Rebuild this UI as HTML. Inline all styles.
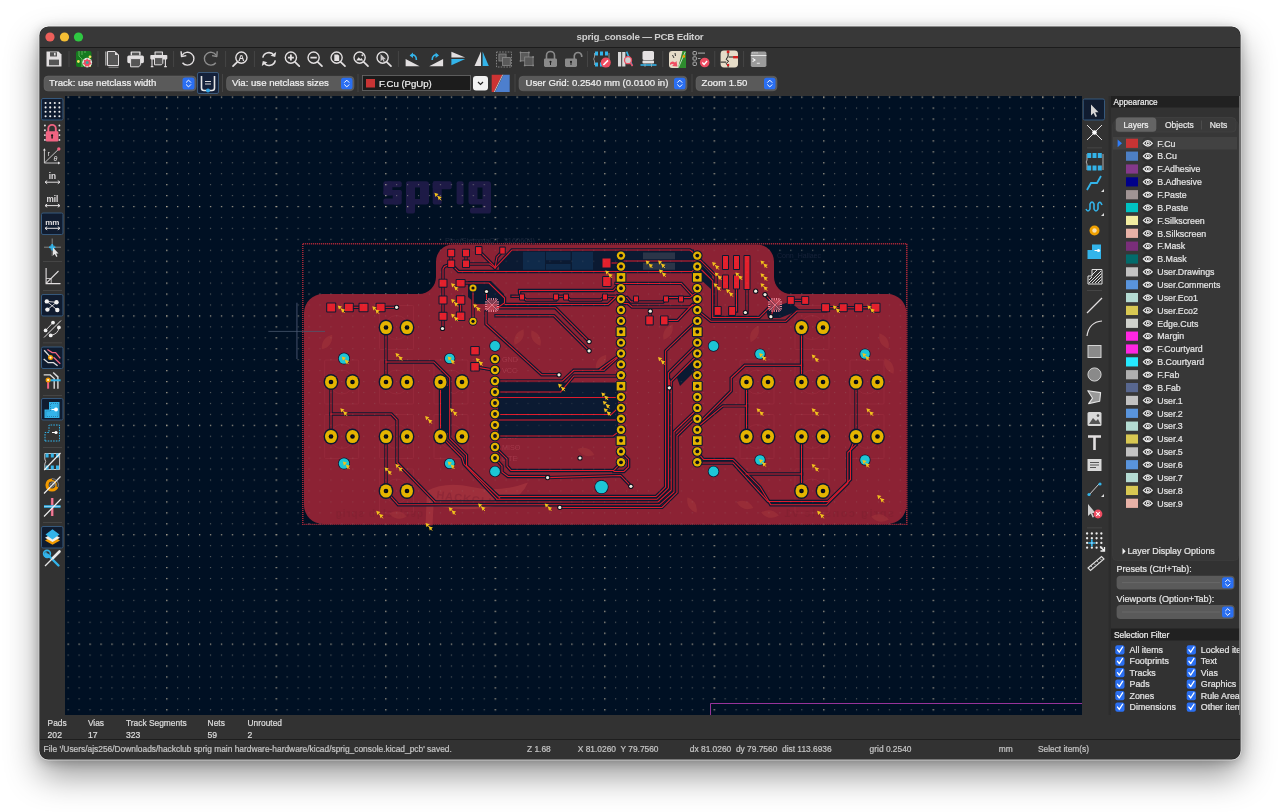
<!DOCTYPE html>
<html><head><meta charset="utf-8">
<style>
*{margin:0;padding:0}
html,body{width:1280px;height:812px;overflow:hidden;background:#fff}
#win{position:absolute;left:40px;top:27px;width:1200px;height:732px;border-radius:8.5px;background:#323232;box-shadow:0 0 0 0.6px rgba(20,20,20,0.9),0 0 0 1.4px rgba(255,255,255,0.55),0 16px 34px rgba(0,0,0,0.42),0 2px 12px rgba(0,0,0,0.28)}
#ov{position:absolute;left:0;top:0;width:1280px;height:812px;will-change:transform}
svg text{font-family:"Liberation Sans", sans-serif}
</style></head><body>
<div id="win"></div>
<svg id="ov" width="1280" height="812" viewBox="0 0 1280 812">
<defs><clipPath id="wc"><rect x="40" y="27" width="1200" height="732" rx="8.5"/></clipPath>
<clipPath id="cc"><rect x="65" y="96" width="1017" height="619"/></clipPath></defs>
<g clip-path="url(#wc)">
<rect x="65" y="96" width="1017" height="619" fill="#001023"/><g clip-path="url(#cc)"><g fill="#1d1a46"><rect x="387" y="181.3" width="14.7" height="6" rx="2"/><rect x="383.4" y="181.3" width="9" height="14" rx="2"/><rect x="383.4" y="190" width="18.3" height="5.5" rx="2"/><rect x="392.7" y="190" width="9" height="14.5" rx="2"/><rect x="383.4" y="198.5" width="16" height="6" rx="2"/><path d="M408 181.3 H426 Q429 181.3 429 184.3 V201.5 Q429 204.5 426 204.5 H415 V211.6 Q415 213.6 413 213.6 H408 Q406 213.6 406 211.6 V183.3 Q406 181.3 408 181.3 Z M415 187.5 V199 H420 V187.5 Z" fill-rule="evenodd"/><rect x="432.7" y="181.3" width="9" height="23.2" rx="2"/><rect x="432.7" y="181.3" width="19" height="8" rx="2"/><rect x="456.6" y="181.3" width="7" height="23.2" rx="2"/><path d="M471 181.3 H488 Q491 181.3 491 184.3 V211 Q491 213.6 488.4 213.6 H472 Q470 213.6 470 211.6 V209.5 Q470 207.8 472 207.8 H482.5 V204.5 H471.5 Q468.5 204.5 468.5 201.5 V184.3 Q468.5 181.3 471 181.3 Z M477.5 187.5 V199 H482.5 V187.5 Z" fill-rule="evenodd"/></g><defs><pattern id="gp" x="62.6" y="91.6" width="10.95" height="10.94" patternUnits="userSpaceOnUse"><rect x="5" y="5" width="1.1" height="1.1" fill="#a8a498" opacity="0.55"/></pattern><pattern id="gpc" x="161.15" y="91.6" width="109.5" height="10.94" patternUnits="userSpaceOnUse"><rect x="5.1" y="5" width="1.3" height="1.2" fill="#e0d0b0" opacity="0.6"/></pattern><pattern id="gpr" x="62.6" y="91.6" width="10.95" height="109.4" patternUnits="userSpaceOnUse"><rect x="5" y="5" width="1.3" height="1.2" fill="#e0d0b0" opacity="0.5"/></pattern></defs><rect x="65" y="96" width="1017" height="619" fill="url(#gp)"/><rect x="65" y="96" width="1017" height="619" fill="url(#gpc)"/><rect x="65" y="96" width="1017" height="619" fill="url(#gpr)"/><rect x="302.8" y="243.8" width="604" height="280.6" fill="none" stroke="#b82a3a" stroke-width="1.4" stroke-dasharray="1.1 0.9"/><path d="M304 313 A19 19 0 0 1 323 294 H419 A17 17 0 0 0 436 277 V261.5 A17 17 0 0 1 453 244.5 H757 A17 17 0 0 1 774 261.5 V277 A17 17 0 0 0 791 294 H887.5 A19 19 0 0 1 906.5 313 V505 A19 19 0 0 1 887.5 524 H323 A19 19 0 0 1 304 505 Z" fill="#8c2234"/><path d="M425.5 525.5 L427 491 Q445 481 472 487 Q500 493 528 482.5 Q521 499 500 505 Q472 512 446 507.5 L433.5 506 L432.5 525.5 Z" fill="#a4343e" opacity="0.75"/><text x="436" y="503" font-size="11" font-weight="bold" fill="#8c2636" opacity="0.8" transform="rotate(8 470 500)" letter-spacing="1">HACKCLUB</text><text x="-423" y="517" font-size="10" font-weight="bold" fill="#7e2030" opacity="0.5" letter-spacing="1" transform="scale(-1,1)">qɐck club sprig</text><text x="-894" y="517" font-size="11" font-weight="bold" fill="#7e2030" opacity="0.5" letter-spacing="1.5" transform="scale(-1,1)">sprig console v1</text><path d="M318 342 Q327 334.5 336 342 Q327 349.5 318 342 Z" transform="rotate(-55 327 342)" fill="#a0343b" opacity="0.6"/><path d="M602 277 Q611 269.5 620 277 Q611 284.5 602 277 Z" transform="rotate(60 611 277)" fill="#a0343b" opacity="0.6"/><path d="M592 362 Q601 354.5 610 362 Q601 369.5 592 362 Z" transform="rotate(-55 601 362)" fill="#a0343b" opacity="0.6"/><path d="M745.5 334 Q754.5 326.5 763.5 334 Q754.5 341.5 745.5 334 Z" transform="rotate(-65 754.5 334)" fill="#a0343b" opacity="0.6"/><path d="M875 341 Q884 333.5 893 341 Q884 348.5 875 341 Z" transform="rotate(60 884 341)" fill="#a0343b" opacity="0.6"/><path d="M389 515 Q398 507.5 407 515 Q398 522.5 389 515 Z" transform="rotate(10 398 515)" fill="#a0343b" opacity="0.6"/><path d="M761 514 Q770 506.5 779 514 Q770 521.5 761 514 Z" transform="rotate(10 770 514)" fill="#a0343b" opacity="0.6"/><path d="M871 518 Q880 510.5 889 518 Q880 525.5 871 518 Z" transform="rotate(10 880 518)" fill="#a0343b" opacity="0.6"/><path d="M659 332 Q668 324.5 677 332 Q668 339.5 659 332 Z" transform="rotate(-60 668 332)" fill="#a0343b" opacity="0.6"/><path d="M683 505 Q692 497.5 701 505 Q692 512.5 683 505 Z" transform="rotate(60 692 505)" fill="#a0343b" opacity="0.6"/><path d="M577 452 Q586 444.5 595 452 Q586 459.5 577 452 Z" transform="rotate(20 586 452)" fill="#a0343b" opacity="0.6"/><path d="M527 338 Q536 330.5 545 338 Q536 345.5 527 338 Z" transform="rotate(60 536 338)" fill="#a0343b" opacity="0.6"/><path d="M510 337 Q519 329.5 528 337 Q519 344.5 510 337 Z" transform="rotate(-60 519 337)" fill="#a0343b" opacity="0.6"/><path d="M880 366 Q889 358.5 898 366 Q889 373.5 880 366 Z" transform="rotate(60 889 366)" fill="#a0343b" opacity="0.6"/><path d="M736 505 Q745 497.5 754 505 Q745 512.5 736 505 Z" transform="rotate(20 745 505)" fill="#a0343b" opacity="0.6"/><g fill="none" stroke="#a33445" stroke-width="0.7" opacity="0.55"><rect x="379.5" y="305.5" width="34" height="44" rx="1"/><circle cx="396.5" cy="327.5" r="12"/><rect x="324.7" y="360" width="34" height="44" rx="1"/><circle cx="341.7" cy="382" r="12"/><rect x="379.5" y="360" width="34" height="44" rx="1"/><circle cx="396.5" cy="382" r="12"/><rect x="434" y="360" width="34" height="44" rx="1"/><circle cx="451" cy="382" r="12"/><rect x="324.7" y="414.5" width="34" height="44" rx="1"/><circle cx="341.7" cy="436.5" r="12"/><rect x="379.5" y="414.5" width="34" height="44" rx="1"/><circle cx="396.5" cy="436.5" r="12"/><rect x="434" y="414.5" width="34" height="44" rx="1"/><circle cx="451" cy="436.5" r="12"/><rect x="379.5" y="469" width="34" height="44" rx="1"/><circle cx="396.5" cy="491" r="12"/><rect x="795" y="305.5" width="34" height="44" rx="1"/><circle cx="812" cy="327.5" r="12"/><rect x="740" y="360" width="34" height="44" rx="1"/><circle cx="757" cy="382" r="12"/><rect x="795" y="360" width="34" height="44" rx="1"/><circle cx="812" cy="382" r="12"/><rect x="850" y="360" width="34" height="44" rx="1"/><circle cx="867" cy="382" r="12"/><rect x="740" y="414.5" width="34" height="44" rx="1"/><circle cx="757" cy="436.5" r="12"/><rect x="795" y="414.5" width="34" height="44" rx="1"/><circle cx="812" cy="436.5" r="12"/><rect x="850" y="414.5" width="34" height="44" rx="1"/><circle cx="867" cy="436.5" r="12"/><rect x="795" y="469" width="34" height="44" rx="1"/><circle cx="812" cy="491" r="12"/></g><text x="502" y="361.8" font-size="7.2" fill="#a3384a" font-family="Liberation Mono">GND</text><text x="502" y="372.8" font-size="7.2" fill="#a3384a" font-family="Liberation Mono">VCC</text><text x="502" y="383.8" font-size="7.2" fill="#a3384a" font-family="Liberation Mono">RST</text><text x="502" y="394.8" font-size="7.2" fill="#a3384a" font-family="Liberation Mono">D/C</text><text x="502" y="405.8" font-size="7.2" fill="#a3384a" font-family="Liberation Mono">CARD_CS</text><text x="502" y="416.8" font-size="7.2" fill="#a3384a" font-family="Liberation Mono">TFT_CS</text><text x="502" y="427.8" font-size="7.2" fill="#a3384a" font-family="Liberation Mono">MOSI</text><text x="502" y="438.8" font-size="7.2" fill="#a3384a" font-family="Liberation Mono">SCK</text><text x="502" y="449.8" font-size="7.2" fill="#a3384a" font-family="Liberation Mono">MISO</text><text x="502" y="460.8" font-size="7.2" fill="#a3384a" font-family="Liberation Mono">LITE</text><text x="445" y="243" font-size="7.4" fill="#1e2a3e" font-family="Liberation Mono">Pico(StemmaQT_3160604)</text><text x="777" y="258" font-size="7" fill="#17233a" font-family="Liberation Mono">Conn_Hallaec</text><polygon points="514,249.5 694,249.5 694,272.5 499,272.5 499,264.5" fill="#0b1a32"/><polygon points="468,281 491,281 504,294 504,304 476,304 468,297" fill="#0b1a32"/><polygon points="498,382.5 618,382.5 618,437.5 498,437.5" fill="#0b1a32"/><polygon points="600,398 618,398 618,436 600,436" fill="#0b1a32"/><polygon points="441,386 449,386 449,433 441,433" fill="#0b1a32"/><polygon points="700,263 712,275.5 712,290 700,279" fill="#0b1a32"/><polygon points="676,375 694,358 694,372 680,386" fill="#0b1a32"/><polygon points="766,309 790,302 800,310 780,318 768,318" fill="#0b1a32"/><rect x="523" y="250.7" width="22" height="20.5" fill="#0f2a4a"/><rect x="546" y="250.7" width="24.5" height="9.5" fill="#0f2a4a"/><rect x="546" y="264" width="24.5" height="7" fill="#0f2a4a"/><rect x="572" y="250.7" width="21" height="20.5" fill="#0f2a4a"/><rect x="643" y="252.5" width="32" height="18" fill="#2b3548"/><g fill="none" stroke="#0b1a32" stroke-width="3.4" stroke-linejoin="miter" stroke-linecap="square"><polyline points="348.8,307.3 363.5,307.3"/><polyline points="380.6,307.3 396.6,307.3"/><polyline points="451,253 451,264 444.5,266.5 443,269 443,328.5"/><polyline points="451,264 458.5,271.5 692,271.5 697,266.5"/><polyline points="466,253 466,264 489.5,264 495,268"/><polyline points="478.7,250.6 494.5,266.5"/><polyline points="503,250.6 497,257 495,268"/><polyline points="495,268 512,250 690,250 697,255.6"/><polyline points="460.6,300 460.6,316.3"/><polyline points="460.6,283 489,283 504.5,298 504.5,303 497,308"/><polyline points="473,288 473,321.3"/><polyline points="486.5,291.5 486.5,299"/><polyline points="496,307.7 555.3,307.7 589.1,341.6"/><polyline points="496,315.7 554,315.7 589.1,350.8"/><polyline points="486,312 486,324 541.7,374.8 559,374.8"/><polyline points="505,304.5 608,304.5 617,296 621,299"/><polyline points="512,296.2 522,296.2 526,300 556,300 559,296.2 566,296.2 570,300 601,300 605,296.2 621,296.2"/><polyline points="519.6,291 519.6,296"/><polyline points="519.6,290.5 613.2,290.5 618,285.5 621,288.4"/><polyline points="606.5,263 621,263"/><polyline points="624,261 697,261"/><polyline points="616,283.4 681.3,283.4 692.4,295.5 697.3,299"/><polyline points="621,297.5 627,297.5 631,302 663,302 667,297.5 690,297.5 697.3,292"/><polyline points="621,303.5 628,303.5 632,307 690,307 697.3,303"/><polyline points="650.3,311.2 649.5,320.4"/><polyline points="664.3,320.4 677.6,320.4 692.4,304.7"/><polyline points="475,366.8 495,370.3"/><polyline points="495,381 562.5,381 573.8,370.3 603.8,370.3 618.5,357"/><polyline points="495,392 560.6,392 573.8,376 621,376"/><polyline points="499,397.5 621,397.5"/><polyline points="495,414.4 611.3,414.4 617,409"/><polyline points="499,420 621,420"/><polyline points="495,436 613,436 621,430"/><polyline points="495,447 507,459 507,466 511,470.5 613.6,470.5 621,463"/><polyline points="495,458 502,466 502,472 508,476.5 548,476.5"/><polyline points="547.6,477.6 620.7,475.5 630.9,486.3"/><polyline points="621,452 628.6,459.5 628.6,467 624,471.5 614,471.5"/><polyline points="694.3,323.2 665.6,350.9 665.6,487 656,496.5 499.8,496.5"/><polyline points="696,345.4 668.4,373 668.4,488 657,499.3 497,499.3"/><polyline points="694.3,358.3 671.2,381.4 671.2,490 658,502 435,502"/><polyline points="694.3,412.3 674,431.8 674,492 659.5,504.8 398.3,504.8 386,491"/><polyline points="669.3,387.8 669.3,380"/><polyline points="559.8,507.4 662,507.4 677,492.5 677,436 694.3,419"/><polyline points="620.3,354.6 600,369.4"/><polyline points="697.4,419.7 702.6,419.7 731.2,391 731.2,378 744.8,365.3 801.5,365.3"/><polyline points="700.7,424.4 722.9,405.9 746.5,405.9"/><polyline points="697.4,452 703.5,459.5 733,459.5 760,487 770.8,504.8 826.2,504.8 847.8,483.3 847.8,452.5 856,444.8"/><polyline points="697.4,463 733,463 768,501.5 828,501.5 850.5,479.5 850.5,450 856,436.5"/><polyline points="697.4,310.2 710.9,321.3 785.8,321.3 796.9,310.9 825.6,310.9"/><polyline points="699.4,267.7 712.7,281 712.7,317.5 759.2,317.5 770.3,306.4"/><polyline points="695,260.5 700.5,260.5 716,276 716,308.7"/><polyline points="736.5,289 736.5,311"/><polyline points="747,289 747,312.5"/><polyline points="765,294.6 774.7,305.3"/><polyline points="770.9,316.7 774.7,305.3"/><polyline points="790.8,300.4 805.2,300.4"/><polyline points="825.6,307.7 875.5,307.7"/><polyline points="801.6,474 746,474"/><polyline points="386,327.5 386,382"/><polyline points="386,362 433.7,362 449.7,378 449.7,438.4 466.5,455.2 466.5,465.7 499.8,497.9"/><polyline points="440.5,382 440.5,436.5"/><polyline points="440.5,436.5 445.7,441 462,457.6 464,464 497,499.3"/><polyline points="331,382 331,436.5"/><polyline points="331,414 391.3,414 397,420 397,462.5 435,501.7"/><polyline points="386,436.5 386,491"/><polyline points="801.5,327.5 801.5,382"/><polyline points="746.5,382 746.5,436.5"/><polyline points="801.5,436.5 801.5,491"/><polyline points="856,382 856,436.5"/></g><g fill="none" stroke="#e01c2c" stroke-width="1.05" stroke-linejoin="miter" stroke-linecap="square"><polyline points="348.8,307.3 363.5,307.3"/><polyline points="380.6,307.3 396.6,307.3"/><polyline points="451,253 451,264 444.5,266.5 443,269 443,328.5"/><polyline points="451,264 458.5,271.5 692,271.5 697,266.5"/><polyline points="466,253 466,264 489.5,264 495,268"/><polyline points="478.7,250.6 494.5,266.5"/><polyline points="503,250.6 497,257 495,268"/><polyline points="495,268 512,250 690,250 697,255.6"/><polyline points="460.6,300 460.6,316.3"/><polyline points="460.6,283 489,283 504.5,298 504.5,303 497,308"/><polyline points="473,288 473,321.3"/><polyline points="486.5,291.5 486.5,299"/><polyline points="496,307.7 555.3,307.7 589.1,341.6"/><polyline points="496,315.7 554,315.7 589.1,350.8"/><polyline points="486,312 486,324 541.7,374.8 559,374.8"/><polyline points="505,304.5 608,304.5 617,296 621,299"/><polyline points="512,296.2 522,296.2 526,300 556,300 559,296.2 566,296.2 570,300 601,300 605,296.2 621,296.2"/><polyline points="519.6,291 519.6,296"/><polyline points="519.6,290.5 613.2,290.5 618,285.5 621,288.4"/><polyline points="606.5,263 621,263"/><polyline points="624,261 697,261"/><polyline points="616,283.4 681.3,283.4 692.4,295.5 697.3,299"/><polyline points="621,297.5 627,297.5 631,302 663,302 667,297.5 690,297.5 697.3,292"/><polyline points="621,303.5 628,303.5 632,307 690,307 697.3,303"/><polyline points="650.3,311.2 649.5,320.4"/><polyline points="664.3,320.4 677.6,320.4 692.4,304.7"/><polyline points="475,366.8 495,370.3"/><polyline points="495,381 562.5,381 573.8,370.3 603.8,370.3 618.5,357"/><polyline points="495,392 560.6,392 573.8,376 621,376"/><polyline points="499,397.5 621,397.5"/><polyline points="495,414.4 611.3,414.4 617,409"/><polyline points="499,420 621,420"/><polyline points="495,436 613,436 621,430"/><polyline points="495,447 507,459 507,466 511,470.5 613.6,470.5 621,463"/><polyline points="495,458 502,466 502,472 508,476.5 548,476.5"/><polyline points="547.6,477.6 620.7,475.5 630.9,486.3"/><polyline points="621,452 628.6,459.5 628.6,467 624,471.5 614,471.5"/><polyline points="694.3,323.2 665.6,350.9 665.6,487 656,496.5 499.8,496.5"/><polyline points="696,345.4 668.4,373 668.4,488 657,499.3 497,499.3"/><polyline points="694.3,358.3 671.2,381.4 671.2,490 658,502 435,502"/><polyline points="694.3,412.3 674,431.8 674,492 659.5,504.8 398.3,504.8 386,491"/><polyline points="669.3,387.8 669.3,380"/><polyline points="559.8,507.4 662,507.4 677,492.5 677,436 694.3,419"/><polyline points="620.3,354.6 600,369.4"/><polyline points="697.4,419.7 702.6,419.7 731.2,391 731.2,378 744.8,365.3 801.5,365.3"/><polyline points="700.7,424.4 722.9,405.9 746.5,405.9"/><polyline points="697.4,452 703.5,459.5 733,459.5 760,487 770.8,504.8 826.2,504.8 847.8,483.3 847.8,452.5 856,444.8"/><polyline points="697.4,463 733,463 768,501.5 828,501.5 850.5,479.5 850.5,450 856,436.5"/><polyline points="697.4,310.2 710.9,321.3 785.8,321.3 796.9,310.9 825.6,310.9"/><polyline points="699.4,267.7 712.7,281 712.7,317.5 759.2,317.5 770.3,306.4"/><polyline points="695,260.5 700.5,260.5 716,276 716,308.7"/><polyline points="736.5,289 736.5,311"/><polyline points="747,289 747,312.5"/><polyline points="765,294.6 774.7,305.3"/><polyline points="770.9,316.7 774.7,305.3"/><polyline points="790.8,300.4 805.2,300.4"/><polyline points="825.6,307.7 875.5,307.7"/><polyline points="801.6,474 746,474"/><polyline points="386,327.5 386,382"/><polyline points="386,362 433.7,362 449.7,378 449.7,438.4 466.5,455.2 466.5,465.7 499.8,497.9"/><polyline points="440.5,382 440.5,436.5"/><polyline points="440.5,436.5 445.7,441 462,457.6 464,464 497,499.3"/><polyline points="331,382 331,436.5"/><polyline points="331,414 391.3,414 397,420 397,462.5 435,501.7"/><polyline points="386,436.5 386,491"/><polyline points="801.5,327.5 801.5,382"/><polyline points="746.5,382 746.5,436.5"/><polyline points="801.5,436.5 801.5,491"/><polyline points="856,382 856,436.5"/></g><rect x="326.20" y="302.50" width="10" height="10" fill="#0b1a32" rx="1"/><rect x="343.80" y="302.75" width="10" height="9.5" fill="#0b1a32" rx="1"/><rect x="358.50" y="302.75" width="10" height="9.5" fill="#0b1a32" rx="1"/><rect x="375.60" y="302.75" width="10" height="9.5" fill="#0b1a32" rx="1"/><rect x="447.20" y="248.75" width="8" height="8.5" fill="#0b1a32" rx="1"/><rect x="447.20" y="259.55" width="8" height="8.5" fill="#0b1a32" rx="1"/><rect x="462.00" y="248.75" width="8" height="8.5" fill="#0b1a32" rx="1"/><rect x="462.00" y="259.55" width="8" height="8.5" fill="#0b1a32" rx="1"/><rect x="474.95" y="246.10" width="7.5" height="9" fill="#0b1a32" rx="1"/><rect x="499.25" y="246.60" width="6.5" height="8" fill="#0b1a32" rx="1"/><rect x="438.50" y="278.70" width="9" height="9" fill="#0b1a32" rx="1"/><rect x="438.50" y="295.50" width="9" height="9" fill="#0b1a32" rx="1"/><rect x="438.50" y="311.80" width="9" height="9" fill="#0b1a32" rx="1"/><rect x="455.60" y="278.95" width="10" height="8.5" fill="#0b1a32" rx="1"/><rect x="455.85" y="295.25" width="9.5" height="9.5" fill="#0b1a32" rx="1"/><rect x="455.85" y="311.55" width="9.5" height="9.5" fill="#0b1a32" rx="1"/><rect x="470.25" y="345.95" width="9.5" height="9.5" fill="#0b1a32" rx="1"/><rect x="470.25" y="362.05" width="9.5" height="9.5" fill="#0b1a32" rx="1"/><rect x="601.50" y="257.50" width="10" height="11" fill="#0b1a32" rx="1"/><rect x="602.15" y="276.00" width="9.5" height="11" fill="#0b1a32" rx="1"/><rect x="645.25" y="315.40" width="8.5" height="10" fill="#0b1a32" rx="1"/><rect x="660.05" y="315.40" width="8.5" height="10" fill="#0b1a32" rx="1"/><rect x="713.70" y="305.90" width="8" height="10" fill="#0b1a32" rx="1"/><rect x="728.10" y="305.90" width="8" height="10" fill="#0b1a32" rx="1"/><rect x="722.00" y="255.00" width="7" height="15" fill="#0b1a32" rx="1"/><rect x="722.00" y="274.50" width="7" height="15" fill="#0b1a32" rx="1"/><rect x="733.00" y="255.00" width="7" height="15" fill="#0b1a32" rx="1"/><rect x="733.00" y="274.50" width="7" height="15" fill="#0b1a32" rx="1"/><rect x="743.50" y="255.00" width="7" height="35" fill="#0b1a32" rx="1"/><rect x="786.80" y="295.90" width="8" height="9" fill="#0b1a32" rx="1"/><rect x="801.20" y="295.90" width="8" height="9" fill="#0b1a32" rx="1"/><rect x="821.10" y="303.20" width="9" height="9" fill="#0b1a32" rx="1"/><rect x="838.70" y="303.20" width="9" height="9" fill="#0b1a32" rx="1"/><rect x="854.10" y="303.20" width="9" height="9" fill="#0b1a32" rx="1"/><rect x="870.50" y="302.70" width="10" height="10" fill="#0b1a32" rx="1"/><rect x="519.00" y="293.50" width="6" height="7" fill="#0b1a32" rx="1"/><rect x="553.00" y="293.50" width="6" height="7" fill="#0b1a32" rx="1"/><rect x="563.00" y="293.50" width="6" height="7" fill="#0b1a32" rx="1"/><rect x="602.00" y="293.50" width="6" height="7" fill="#0b1a32" rx="1"/><rect x="633.00" y="295.50" width="6" height="7" fill="#0b1a32" rx="1"/><rect x="663.00" y="295.50" width="6" height="7" fill="#0b1a32" rx="1"/><rect x="678.00" y="295.50" width="6" height="7" fill="#0b1a32" rx="1"/><rect x="327.20" y="303.50" width="8" height="8" fill="#e3202c"/><rect x="344.80" y="303.75" width="8" height="7.5" fill="#e3202c"/><rect x="359.50" y="303.75" width="8" height="7.5" fill="#e3202c"/><rect x="376.60" y="303.75" width="8" height="7.5" fill="#e3202c"/><rect x="448.20" y="249.75" width="6" height="6.5" fill="#e3202c"/><rect x="448.20" y="260.55" width="6" height="6.5" fill="#e3202c"/><rect x="463.00" y="249.75" width="6" height="6.5" fill="#e3202c"/><rect x="463.00" y="260.55" width="6" height="6.5" fill="#e3202c"/><rect x="475.95" y="247.10" width="5.5" height="7" fill="#e3202c"/><rect x="500.25" y="247.60" width="4.5" height="6" fill="#e3202c"/><rect x="439.50" y="279.70" width="7" height="7" fill="#e3202c"/><rect x="439.50" y="296.50" width="7" height="7" fill="#e3202c"/><rect x="439.50" y="312.80" width="7" height="7" fill="#e3202c"/><rect x="456.60" y="279.95" width="8" height="6.5" fill="#e3202c"/><rect x="456.85" y="296.25" width="7.5" height="7.5" fill="#e3202c"/><rect x="456.85" y="312.55" width="7.5" height="7.5" fill="#e3202c"/><rect x="471.25" y="346.95" width="7.5" height="7.5" fill="#e3202c"/><rect x="471.25" y="363.05" width="7.5" height="7.5" fill="#e3202c"/><rect x="602.50" y="258.50" width="8" height="9" fill="#e3202c"/><rect x="603.15" y="277.00" width="7.5" height="9" fill="#e3202c"/><rect x="646.25" y="316.40" width="6.5" height="8" fill="#e3202c"/><rect x="661.05" y="316.40" width="6.5" height="8" fill="#e3202c"/><rect x="714.70" y="306.90" width="6" height="8" fill="#e3202c"/><rect x="729.10" y="306.90" width="6" height="8" fill="#e3202c"/><rect x="723.00" y="256.00" width="5" height="13" fill="#e3202c"/><rect x="723.00" y="275.50" width="5" height="13" fill="#e3202c"/><rect x="734.00" y="256.00" width="5" height="13" fill="#e3202c"/><rect x="734.00" y="275.50" width="5" height="13" fill="#e3202c"/><rect x="744.50" y="256.00" width="5" height="33" fill="#e3202c"/><rect x="787.80" y="296.90" width="6" height="7" fill="#e3202c"/><rect x="802.20" y="296.90" width="6" height="7" fill="#e3202c"/><rect x="822.10" y="304.20" width="7" height="7" fill="#e3202c"/><rect x="839.70" y="304.20" width="7" height="7" fill="#e3202c"/><rect x="855.10" y="304.20" width="7" height="7" fill="#e3202c"/><rect x="871.50" y="303.70" width="8" height="8" fill="#e3202c"/><rect x="520.00" y="294.50" width="4" height="5" fill="#e3202c"/><rect x="554.00" y="294.50" width="4" height="5" fill="#e3202c"/><rect x="564.00" y="294.50" width="4" height="5" fill="#e3202c"/><rect x="603.00" y="294.50" width="4" height="5" fill="#e3202c"/><rect x="634.00" y="296.50" width="4" height="5" fill="#e3202c"/><rect x="664.00" y="296.50" width="4" height="5" fill="#e3202c"/><rect x="679.00" y="296.50" width="4" height="5" fill="#e3202c"/><rect x="487" y="300" width="10" height="10" fill="#e05a6a" opacity="0.55"/><rect x="485" y="301.4" width="2.2" height="1.1" fill="#f08898"/><rect x="496.8" y="301.4" width="2.2" height="1.1" fill="#f08898"/><rect x="488.4" y="298" width="1.1" height="2.2" fill="#f08898"/><rect x="488.4" y="309.8" width="1.1" height="2.2" fill="#f08898"/><rect x="485" y="303.7" width="2.2" height="1.1" fill="#f08898"/><rect x="496.8" y="303.7" width="2.2" height="1.1" fill="#f08898"/><rect x="490.7" y="298" width="1.1" height="2.2" fill="#f08898"/><rect x="490.7" y="309.8" width="1.1" height="2.2" fill="#f08898"/><rect x="485" y="306.0" width="2.2" height="1.1" fill="#f08898"/><rect x="496.8" y="306.0" width="2.2" height="1.1" fill="#f08898"/><rect x="493.0" y="298" width="1.1" height="2.2" fill="#f08898"/><rect x="493.0" y="309.8" width="1.1" height="2.2" fill="#f08898"/><rect x="485" y="308.3" width="2.2" height="1.1" fill="#f08898"/><rect x="496.8" y="308.3" width="2.2" height="1.1" fill="#f08898"/><rect x="495.3" y="298" width="1.1" height="2.2" fill="#f08898"/><rect x="495.3" y="309.8" width="1.1" height="2.2" fill="#f08898"/><path d="M486 299 L498 311 M498 299 L486 311" stroke="#f4a0b0" stroke-width="0.6"/><rect x="770" y="300" width="10" height="10" fill="#e05a6a" opacity="0.55"/><rect x="768" y="301.4" width="2.2" height="1.1" fill="#f08898"/><rect x="779.8" y="301.4" width="2.2" height="1.1" fill="#f08898"/><rect x="771.4" y="298" width="1.1" height="2.2" fill="#f08898"/><rect x="771.4" y="309.8" width="1.1" height="2.2" fill="#f08898"/><rect x="768" y="303.7" width="2.2" height="1.1" fill="#f08898"/><rect x="779.8" y="303.7" width="2.2" height="1.1" fill="#f08898"/><rect x="773.7" y="298" width="1.1" height="2.2" fill="#f08898"/><rect x="773.7" y="309.8" width="1.1" height="2.2" fill="#f08898"/><rect x="768" y="306.0" width="2.2" height="1.1" fill="#f08898"/><rect x="779.8" y="306.0" width="2.2" height="1.1" fill="#f08898"/><rect x="776.0" y="298" width="1.1" height="2.2" fill="#f08898"/><rect x="776.0" y="309.8" width="1.1" height="2.2" fill="#f08898"/><rect x="768" y="308.3" width="2.2" height="1.1" fill="#f08898"/><rect x="779.8" y="308.3" width="2.2" height="1.1" fill="#f08898"/><rect x="778.3" y="298" width="1.1" height="2.2" fill="#f08898"/><rect x="778.3" y="309.8" width="1.1" height="2.2" fill="#f08898"/><path d="M769 299 L781 311 M781 299 L769 311" stroke="#f4a0b0" stroke-width="0.6"/><ellipse cx="386" cy="327.5" rx="7.4" ry="8" fill="#0b1a32"/><ellipse cx="386" cy="327.5" rx="6" ry="6.6" fill="#e4b400"/><circle cx="386" cy="327.5" r="2.3" fill="#050a14"/><ellipse cx="407" cy="327.5" rx="7.4" ry="8" fill="#0b1a32"/><ellipse cx="407" cy="327.5" rx="6" ry="6.6" fill="#e4b400"/><circle cx="407" cy="327.5" r="2.3" fill="#050a14"/><ellipse cx="331" cy="382" rx="7.4" ry="8" fill="#0b1a32"/><ellipse cx="331" cy="382" rx="6" ry="6.6" fill="#e4b400"/><circle cx="331" cy="382" r="2.3" fill="#050a14"/><ellipse cx="352.5" cy="382" rx="7.4" ry="8" fill="#0b1a32"/><ellipse cx="352.5" cy="382" rx="6" ry="6.6" fill="#e4b400"/><circle cx="352.5" cy="382" r="2.3" fill="#050a14"/><ellipse cx="386" cy="382" rx="7.4" ry="8" fill="#0b1a32"/><ellipse cx="386" cy="382" rx="6" ry="6.6" fill="#e4b400"/><circle cx="386" cy="382" r="2.3" fill="#050a14"/><ellipse cx="407" cy="382" rx="7.4" ry="8" fill="#0b1a32"/><ellipse cx="407" cy="382" rx="6" ry="6.6" fill="#e4b400"/><circle cx="407" cy="382" r="2.3" fill="#050a14"/><ellipse cx="440.5" cy="382" rx="7.4" ry="8" fill="#0b1a32"/><ellipse cx="440.5" cy="382" rx="6" ry="6.6" fill="#e4b400"/><circle cx="440.5" cy="382" r="2.3" fill="#050a14"/><ellipse cx="462" cy="382" rx="7.4" ry="8" fill="#0b1a32"/><ellipse cx="462" cy="382" rx="6" ry="6.6" fill="#e4b400"/><circle cx="462" cy="382" r="2.3" fill="#050a14"/><ellipse cx="331" cy="436.5" rx="7.4" ry="8" fill="#0b1a32"/><ellipse cx="331" cy="436.5" rx="6" ry="6.6" fill="#e4b400"/><circle cx="331" cy="436.5" r="2.3" fill="#050a14"/><ellipse cx="352.5" cy="436.5" rx="7.4" ry="8" fill="#0b1a32"/><ellipse cx="352.5" cy="436.5" rx="6" ry="6.6" fill="#e4b400"/><circle cx="352.5" cy="436.5" r="2.3" fill="#050a14"/><ellipse cx="386" cy="436.5" rx="7.4" ry="8" fill="#0b1a32"/><ellipse cx="386" cy="436.5" rx="6" ry="6.6" fill="#e4b400"/><circle cx="386" cy="436.5" r="2.3" fill="#050a14"/><ellipse cx="407" cy="436.5" rx="7.4" ry="8" fill="#0b1a32"/><ellipse cx="407" cy="436.5" rx="6" ry="6.6" fill="#e4b400"/><circle cx="407" cy="436.5" r="2.3" fill="#050a14"/><ellipse cx="440.5" cy="436.5" rx="7.4" ry="8" fill="#0b1a32"/><ellipse cx="440.5" cy="436.5" rx="6" ry="6.6" fill="#e4b400"/><circle cx="440.5" cy="436.5" r="2.3" fill="#050a14"/><ellipse cx="462" cy="436.5" rx="7.4" ry="8" fill="#0b1a32"/><ellipse cx="462" cy="436.5" rx="6" ry="6.6" fill="#e4b400"/><circle cx="462" cy="436.5" r="2.3" fill="#050a14"/><ellipse cx="386" cy="491" rx="7.4" ry="8" fill="#0b1a32"/><ellipse cx="386" cy="491" rx="6" ry="6.6" fill="#e4b400"/><circle cx="386" cy="491" r="2.3" fill="#050a14"/><ellipse cx="407" cy="491" rx="7.4" ry="8" fill="#0b1a32"/><ellipse cx="407" cy="491" rx="6" ry="6.6" fill="#e4b400"/><circle cx="407" cy="491" r="2.3" fill="#050a14"/><ellipse cx="801.5" cy="327.5" rx="7.4" ry="8" fill="#0b1a32"/><ellipse cx="801.5" cy="327.5" rx="6" ry="6.6" fill="#e4b400"/><circle cx="801.5" cy="327.5" r="2.3" fill="#050a14"/><ellipse cx="823" cy="327.5" rx="7.4" ry="8" fill="#0b1a32"/><ellipse cx="823" cy="327.5" rx="6" ry="6.6" fill="#e4b400"/><circle cx="823" cy="327.5" r="2.3" fill="#050a14"/><ellipse cx="746.5" cy="382" rx="7.4" ry="8" fill="#0b1a32"/><ellipse cx="746.5" cy="382" rx="6" ry="6.6" fill="#e4b400"/><circle cx="746.5" cy="382" r="2.3" fill="#050a14"/><ellipse cx="768" cy="382" rx="7.4" ry="8" fill="#0b1a32"/><ellipse cx="768" cy="382" rx="6" ry="6.6" fill="#e4b400"/><circle cx="768" cy="382" r="2.3" fill="#050a14"/><ellipse cx="801.5" cy="382" rx="7.4" ry="8" fill="#0b1a32"/><ellipse cx="801.5" cy="382" rx="6" ry="6.6" fill="#e4b400"/><circle cx="801.5" cy="382" r="2.3" fill="#050a14"/><ellipse cx="823" cy="382" rx="7.4" ry="8" fill="#0b1a32"/><ellipse cx="823" cy="382" rx="6" ry="6.6" fill="#e4b400"/><circle cx="823" cy="382" r="2.3" fill="#050a14"/><ellipse cx="856" cy="382" rx="7.4" ry="8" fill="#0b1a32"/><ellipse cx="856" cy="382" rx="6" ry="6.6" fill="#e4b400"/><circle cx="856" cy="382" r="2.3" fill="#050a14"/><ellipse cx="877.5" cy="382" rx="7.4" ry="8" fill="#0b1a32"/><ellipse cx="877.5" cy="382" rx="6" ry="6.6" fill="#e4b400"/><circle cx="877.5" cy="382" r="2.3" fill="#050a14"/><ellipse cx="746.5" cy="436.5" rx="7.4" ry="8" fill="#0b1a32"/><ellipse cx="746.5" cy="436.5" rx="6" ry="6.6" fill="#e4b400"/><circle cx="746.5" cy="436.5" r="2.3" fill="#050a14"/><ellipse cx="768" cy="436.5" rx="7.4" ry="8" fill="#0b1a32"/><ellipse cx="768" cy="436.5" rx="6" ry="6.6" fill="#e4b400"/><circle cx="768" cy="436.5" r="2.3" fill="#050a14"/><ellipse cx="801.5" cy="436.5" rx="7.4" ry="8" fill="#0b1a32"/><ellipse cx="801.5" cy="436.5" rx="6" ry="6.6" fill="#e4b400"/><circle cx="801.5" cy="436.5" r="2.3" fill="#050a14"/><ellipse cx="823" cy="436.5" rx="7.4" ry="8" fill="#0b1a32"/><ellipse cx="823" cy="436.5" rx="6" ry="6.6" fill="#e4b400"/><circle cx="823" cy="436.5" r="2.3" fill="#050a14"/><ellipse cx="856" cy="436.5" rx="7.4" ry="8" fill="#0b1a32"/><ellipse cx="856" cy="436.5" rx="6" ry="6.6" fill="#e4b400"/><circle cx="856" cy="436.5" r="2.3" fill="#050a14"/><ellipse cx="877.5" cy="436.5" rx="7.4" ry="8" fill="#0b1a32"/><ellipse cx="877.5" cy="436.5" rx="6" ry="6.6" fill="#e4b400"/><circle cx="877.5" cy="436.5" r="2.3" fill="#050a14"/><ellipse cx="801.5" cy="491" rx="7.4" ry="8" fill="#0b1a32"/><ellipse cx="801.5" cy="491" rx="6" ry="6.6" fill="#e4b400"/><circle cx="801.5" cy="491" r="2.3" fill="#050a14"/><ellipse cx="823" cy="491" rx="7.4" ry="8" fill="#0b1a32"/><ellipse cx="823" cy="491" rx="6" ry="6.6" fill="#e4b400"/><circle cx="823" cy="491" r="2.3" fill="#050a14"/><circle cx="495" cy="359.0" r="5.3" fill="#0b1a32"/><circle cx="495" cy="359.0" r="4.2" fill="#e4b400"/><circle cx="495" cy="359.0" r="1.9" fill="#0b0f1a"/><circle cx="495" cy="370.0" r="5.3" fill="#0b1a32"/><circle cx="495" cy="370.0" r="4.2" fill="#e4b400"/><circle cx="495" cy="370.0" r="1.9" fill="#0b0f1a"/><circle cx="495" cy="381.0" r="5.3" fill="#0b1a32"/><circle cx="495" cy="381.0" r="4.2" fill="#e4b400"/><circle cx="495" cy="381.0" r="1.9" fill="#0b0f1a"/><circle cx="495" cy="392.0" r="5.3" fill="#0b1a32"/><circle cx="495" cy="392.0" r="4.2" fill="#e4b400"/><circle cx="495" cy="392.0" r="1.9" fill="#0b0f1a"/><circle cx="495" cy="403.0" r="5.3" fill="#0b1a32"/><circle cx="495" cy="403.0" r="4.2" fill="#e4b400"/><circle cx="495" cy="403.0" r="1.9" fill="#0b0f1a"/><circle cx="495" cy="414.0" r="5.3" fill="#0b1a32"/><circle cx="495" cy="414.0" r="4.2" fill="#e4b400"/><circle cx="495" cy="414.0" r="1.9" fill="#0b0f1a"/><circle cx="495" cy="425.0" r="5.3" fill="#0b1a32"/><circle cx="495" cy="425.0" r="4.2" fill="#e4b400"/><circle cx="495" cy="425.0" r="1.9" fill="#0b0f1a"/><circle cx="495" cy="436.0" r="5.3" fill="#0b1a32"/><circle cx="495" cy="436.0" r="4.2" fill="#e4b400"/><circle cx="495" cy="436.0" r="1.9" fill="#0b0f1a"/><circle cx="495" cy="447.0" r="5.3" fill="#0b1a32"/><circle cx="495" cy="447.0" r="4.2" fill="#e4b400"/><circle cx="495" cy="447.0" r="1.9" fill="#0b0f1a"/><circle cx="495" cy="458.0" r="5.3" fill="#0b1a32"/><circle cx="495" cy="458.0" r="4.2" fill="#e4b400"/><circle cx="495" cy="458.0" r="1.9" fill="#0b0f1a"/><circle cx="621" cy="255.6" r="5.3" fill="#0b1a32"/><circle cx="621" cy="255.6" r="4.2" fill="#e4b400"/><circle cx="621" cy="255.6" r="1.9" fill="#0b0f1a"/><circle cx="697.3" cy="255.6" r="5.3" fill="#0b1a32"/><circle cx="697.3" cy="255.6" r="4.2" fill="#e4b400"/><circle cx="697.3" cy="255.6" r="1.9" fill="#0b0f1a"/><circle cx="621" cy="266.48" r="5.3" fill="#0b1a32"/><circle cx="621" cy="266.48" r="4.2" fill="#e4b400"/><circle cx="621" cy="266.48" r="1.9" fill="#0b0f1a"/><circle cx="697.3" cy="266.48" r="5.3" fill="#0b1a32"/><circle cx="697.3" cy="266.48" r="4.2" fill="#e4b400"/><circle cx="697.3" cy="266.48" r="1.9" fill="#0b0f1a"/><rect x="615.6" y="271.96000000000004" width="10.8" height="10.8" rx="1.5" fill="#0b1a32"/><rect x="616.7" y="273.06" width="8.6" height="8.6" fill="#e4b400"/><circle cx="621" cy="277.36" r="1.9" fill="#0b0f1a"/><rect x="691.9" y="271.96000000000004" width="10.8" height="10.8" rx="1.5" fill="#0b1a32"/><rect x="693.0" y="273.06" width="8.6" height="8.6" fill="#e4b400"/><circle cx="697.3" cy="277.36" r="1.9" fill="#0b0f1a"/><circle cx="621" cy="288.24" r="5.3" fill="#0b1a32"/><circle cx="621" cy="288.24" r="4.2" fill="#e4b400"/><circle cx="621" cy="288.24" r="1.9" fill="#0b0f1a"/><circle cx="697.3" cy="288.24" r="5.3" fill="#0b1a32"/><circle cx="697.3" cy="288.24" r="4.2" fill="#e4b400"/><circle cx="697.3" cy="288.24" r="1.9" fill="#0b0f1a"/><circle cx="621" cy="299.12" r="5.3" fill="#0b1a32"/><circle cx="621" cy="299.12" r="4.2" fill="#e4b400"/><circle cx="621" cy="299.12" r="1.9" fill="#0b0f1a"/><circle cx="697.3" cy="299.12" r="5.3" fill="#0b1a32"/><circle cx="697.3" cy="299.12" r="4.2" fill="#e4b400"/><circle cx="697.3" cy="299.12" r="1.9" fill="#0b0f1a"/><circle cx="621" cy="310.0" r="5.3" fill="#0b1a32"/><circle cx="621" cy="310.0" r="4.2" fill="#e4b400"/><circle cx="621" cy="310.0" r="1.9" fill="#0b0f1a"/><circle cx="697.3" cy="310.0" r="5.3" fill="#0b1a32"/><circle cx="697.3" cy="310.0" r="4.2" fill="#e4b400"/><circle cx="697.3" cy="310.0" r="1.9" fill="#0b0f1a"/><circle cx="621" cy="320.88" r="5.3" fill="#0b1a32"/><circle cx="621" cy="320.88" r="4.2" fill="#e4b400"/><circle cx="621" cy="320.88" r="1.9" fill="#0b0f1a"/><circle cx="697.3" cy="320.88" r="5.3" fill="#0b1a32"/><circle cx="697.3" cy="320.88" r="4.2" fill="#e4b400"/><circle cx="697.3" cy="320.88" r="1.9" fill="#0b0f1a"/><rect x="615.6" y="326.36" width="10.8" height="10.8" rx="1.5" fill="#0b1a32"/><rect x="616.7" y="327.46" width="8.6" height="8.6" fill="#e4b400"/><circle cx="621" cy="331.76" r="1.9" fill="#0b0f1a"/><rect x="691.9" y="326.36" width="10.8" height="10.8" rx="1.5" fill="#0b1a32"/><rect x="693.0" y="327.46" width="8.6" height="8.6" fill="#e4b400"/><circle cx="697.3" cy="331.76" r="1.9" fill="#0b0f1a"/><circle cx="621" cy="342.64" r="5.3" fill="#0b1a32"/><circle cx="621" cy="342.64" r="4.2" fill="#e4b400"/><circle cx="621" cy="342.64" r="1.9" fill="#0b0f1a"/><circle cx="697.3" cy="342.64" r="5.3" fill="#0b1a32"/><circle cx="697.3" cy="342.64" r="4.2" fill="#e4b400"/><circle cx="697.3" cy="342.64" r="1.9" fill="#0b0f1a"/><circle cx="621" cy="353.52" r="5.3" fill="#0b1a32"/><circle cx="621" cy="353.52" r="4.2" fill="#e4b400"/><circle cx="621" cy="353.52" r="1.9" fill="#0b0f1a"/><circle cx="697.3" cy="353.52" r="5.3" fill="#0b1a32"/><circle cx="697.3" cy="353.52" r="4.2" fill="#e4b400"/><circle cx="697.3" cy="353.52" r="1.9" fill="#0b0f1a"/><circle cx="621" cy="364.4" r="5.3" fill="#0b1a32"/><circle cx="621" cy="364.4" r="4.2" fill="#e4b400"/><circle cx="621" cy="364.4" r="1.9" fill="#0b0f1a"/><circle cx="697.3" cy="364.4" r="5.3" fill="#0b1a32"/><circle cx="697.3" cy="364.4" r="4.2" fill="#e4b400"/><circle cx="697.3" cy="364.4" r="1.9" fill="#0b0f1a"/><circle cx="621" cy="375.28" r="5.3" fill="#0b1a32"/><circle cx="621" cy="375.28" r="4.2" fill="#e4b400"/><circle cx="621" cy="375.28" r="1.9" fill="#0b0f1a"/><circle cx="697.3" cy="375.28" r="5.3" fill="#0b1a32"/><circle cx="697.3" cy="375.28" r="4.2" fill="#e4b400"/><circle cx="697.3" cy="375.28" r="1.9" fill="#0b0f1a"/><rect x="615.6" y="380.76000000000005" width="10.8" height="10.8" rx="1.5" fill="#0b1a32"/><rect x="616.7" y="381.86" width="8.6" height="8.6" fill="#e4b400"/><circle cx="621" cy="386.16" r="1.9" fill="#0b0f1a"/><rect x="691.9" y="380.76000000000005" width="10.8" height="10.8" rx="1.5" fill="#0b1a32"/><rect x="693.0" y="381.86" width="8.6" height="8.6" fill="#e4b400"/><circle cx="697.3" cy="386.16" r="1.9" fill="#0b0f1a"/><circle cx="621" cy="397.04" r="5.3" fill="#0b1a32"/><circle cx="621" cy="397.04" r="4.2" fill="#e4b400"/><circle cx="621" cy="397.04" r="1.9" fill="#0b0f1a"/><circle cx="697.3" cy="397.04" r="5.3" fill="#0b1a32"/><circle cx="697.3" cy="397.04" r="4.2" fill="#e4b400"/><circle cx="697.3" cy="397.04" r="1.9" fill="#0b0f1a"/><circle cx="621" cy="407.92" r="5.3" fill="#0b1a32"/><circle cx="621" cy="407.92" r="4.2" fill="#e4b400"/><circle cx="621" cy="407.92" r="1.9" fill="#0b0f1a"/><circle cx="697.3" cy="407.92" r="5.3" fill="#0b1a32"/><circle cx="697.3" cy="407.92" r="4.2" fill="#e4b400"/><circle cx="697.3" cy="407.92" r="1.9" fill="#0b0f1a"/><circle cx="621" cy="418.8" r="5.3" fill="#0b1a32"/><circle cx="621" cy="418.8" r="4.2" fill="#e4b400"/><circle cx="621" cy="418.8" r="1.9" fill="#0b0f1a"/><circle cx="697.3" cy="418.8" r="5.3" fill="#0b1a32"/><circle cx="697.3" cy="418.8" r="4.2" fill="#e4b400"/><circle cx="697.3" cy="418.8" r="1.9" fill="#0b0f1a"/><circle cx="621" cy="429.68" r="5.3" fill="#0b1a32"/><circle cx="621" cy="429.68" r="4.2" fill="#e4b400"/><circle cx="621" cy="429.68" r="1.9" fill="#0b0f1a"/><circle cx="697.3" cy="429.68" r="5.3" fill="#0b1a32"/><circle cx="697.3" cy="429.68" r="4.2" fill="#e4b400"/><circle cx="697.3" cy="429.68" r="1.9" fill="#0b0f1a"/><rect x="615.6" y="435.16" width="10.8" height="10.8" rx="1.5" fill="#0b1a32"/><rect x="616.7" y="436.26" width="8.6" height="8.6" fill="#e4b400"/><circle cx="621" cy="440.56" r="1.9" fill="#0b0f1a"/><rect x="691.9" y="435.16" width="10.8" height="10.8" rx="1.5" fill="#0b1a32"/><rect x="693.0" y="436.26" width="8.6" height="8.6" fill="#e4b400"/><circle cx="697.3" cy="440.56" r="1.9" fill="#0b0f1a"/><circle cx="621" cy="451.44" r="5.3" fill="#0b1a32"/><circle cx="621" cy="451.44" r="4.2" fill="#e4b400"/><circle cx="621" cy="451.44" r="1.9" fill="#0b0f1a"/><circle cx="697.3" cy="451.44" r="5.3" fill="#0b1a32"/><circle cx="697.3" cy="451.44" r="4.2" fill="#e4b400"/><circle cx="697.3" cy="451.44" r="1.9" fill="#0b0f1a"/><circle cx="621" cy="462.32" r="5.3" fill="#0b1a32"/><circle cx="621" cy="462.32" r="4.2" fill="#e4b400"/><circle cx="621" cy="462.32" r="1.9" fill="#0b0f1a"/><circle cx="697.3" cy="462.32" r="5.3" fill="#0b1a32"/><circle cx="697.3" cy="462.32" r="4.2" fill="#e4b400"/><circle cx="697.3" cy="462.32" r="1.9" fill="#0b0f1a"/><circle cx="473" cy="288" r="4.4" fill="#0b1a32"/><circle cx="473" cy="288" r="3.5" fill="#e4b400"/><circle cx="473" cy="288" r="1.6" fill="#0b0f1a"/><circle cx="473" cy="321.3" r="4.4" fill="#0b1a32"/><circle cx="473" cy="321.3" r="3.5" fill="#e4b400"/><circle cx="473" cy="321.3" r="1.6" fill="#0b0f1a"/><circle cx="344" cy="358.5" r="6.0" fill="#0b1a32"/><circle cx="344" cy="358.5" r="5.2" fill="#1dc6d6"/><circle cx="449.7" cy="358.5" r="5.6" fill="#0b1a32"/><circle cx="449.7" cy="358.5" r="4.8" fill="#1dc6d6"/><circle cx="344" cy="463.5" r="6.0" fill="#0b1a32"/><circle cx="344" cy="463.5" r="5.2" fill="#1dc6d6"/><circle cx="449.7" cy="463.5" r="5.6" fill="#0b1a32"/><circle cx="449.7" cy="463.5" r="4.8" fill="#1dc6d6"/><circle cx="495" cy="346" r="5.7" fill="#0b1a32"/><circle cx="495" cy="346" r="4.9" fill="#1dc6d6"/><circle cx="495" cy="471.5" r="5.7" fill="#0b1a32"/><circle cx="495" cy="471.5" r="4.9" fill="#1dc6d6"/><circle cx="601.5" cy="487" r="7.1" fill="#0b1a32"/><circle cx="601.5" cy="487" r="6.3" fill="#1dc6d6"/><circle cx="713.5" cy="346" r="5.7" fill="#0b1a32"/><circle cx="713.5" cy="346" r="4.9" fill="#1dc6d6"/><circle cx="713.5" cy="471.5" r="5.7" fill="#0b1a32"/><circle cx="713.5" cy="471.5" r="4.9" fill="#1dc6d6"/><circle cx="760" cy="354" r="5.6" fill="#0b1a32"/><circle cx="760" cy="354" r="4.8" fill="#1dc6d6"/><circle cx="865" cy="354" r="5.6" fill="#0b1a32"/><circle cx="865" cy="354" r="4.8" fill="#1dc6d6"/><circle cx="760" cy="460" r="5.6" fill="#0b1a32"/><circle cx="760" cy="460" r="4.8" fill="#1dc6d6"/><circle cx="865" cy="460" r="5.6" fill="#0b1a32"/><circle cx="865" cy="460" r="4.8" fill="#1dc6d6"/><circle cx="396.6" cy="307.3" r="2.6" fill="#0a0f1a"/><circle cx="396.6" cy="307.3" r="1.6" fill="#f0ece0"/><circle cx="442.5" cy="328.5" r="2.6" fill="#0a0f1a"/><circle cx="442.5" cy="328.5" r="1.6" fill="#f0ece0"/><circle cx="486.5" cy="291.5" r="2.6" fill="#0a0f1a"/><circle cx="486.5" cy="291.5" r="1.6" fill="#f0ece0"/><circle cx="589.1" cy="341.6" r="2.6" fill="#0a0f1a"/><circle cx="589.1" cy="341.6" r="1.6" fill="#f0ece0"/><circle cx="589.1" cy="350.8" r="2.6" fill="#0a0f1a"/><circle cx="589.1" cy="350.8" r="1.6" fill="#f0ece0"/><circle cx="559" cy="374.8" r="2.6" fill="#0a0f1a"/><circle cx="559" cy="374.8" r="1.6" fill="#f0ece0"/><circle cx="547.6" cy="477.6" r="2.6" fill="#0a0f1a"/><circle cx="547.6" cy="477.6" r="1.6" fill="#f0ece0"/><circle cx="630.9" cy="486.3" r="2.6" fill="#0a0f1a"/><circle cx="630.9" cy="486.3" r="1.6" fill="#f0ece0"/><circle cx="559.8" cy="507.4" r="2.6" fill="#0a0f1a"/><circle cx="559.8" cy="507.4" r="1.6" fill="#f0ece0"/><circle cx="650.3" cy="311.2" r="2.6" fill="#0a0f1a"/><circle cx="650.3" cy="311.2" r="1.6" fill="#f0ece0"/><circle cx="669.3" cy="387.8" r="2.6" fill="#0a0f1a"/><circle cx="669.3" cy="387.8" r="1.6" fill="#f0ece0"/><circle cx="745.4" cy="312.5" r="2.6" fill="#0a0f1a"/><circle cx="745.4" cy="312.5" r="1.6" fill="#f0ece0"/><circle cx="765" cy="294.6" r="2.6" fill="#0a0f1a"/><circle cx="765" cy="294.6" r="1.6" fill="#f0ece0"/><circle cx="770.9" cy="316.7" r="2.6" fill="#0a0f1a"/><circle cx="770.9" cy="316.7" r="1.6" fill="#f0ece0"/><circle cx="580" cy="458" r="2.6" fill="#0a0f1a"/><circle cx="580" cy="458" r="1.6" fill="#f0ece0"/><circle cx="755.7" cy="291.2" r="2.6" fill="#0a0f1a"/><circle cx="755.7" cy="291.2" r="1.6" fill="#f0ece0"/><path d="M434.40 192.80 L438.60 193.90 L437.00 195.40 L435.50 197.00 Z" fill="#f2c21c"/><path d="M437.60 196.00 L441.80 197.10 L440.20 198.60 L438.70 200.20 Z" fill="#f2c21c"/><path d="M437.30 195.70 L441.10 200.30" stroke="#f2c21c" stroke-width="1"/><path d="M337.80 305.40 L342.00 306.50 L340.40 308.00 L338.90 309.60 Z" fill="#f2c21c"/><path d="M341.00 308.60 L345.20 309.70 L343.60 311.20 L342.10 312.80 Z" fill="#f2c21c"/><path d="M340.70 308.30 L344.50 312.90" stroke="#f2c21c" stroke-width="1"/><path d="M372.30 306.30 L376.50 307.40 L374.90 308.90 L373.40 310.50 Z" fill="#f2c21c"/><path d="M375.50 309.50 L379.70 310.60 L378.10 312.10 L376.60 313.70 Z" fill="#f2c21c"/><path d="M375.20 309.20 L379.00 313.80" stroke="#f2c21c" stroke-width="1"/><path d="M451.10 283.20 L455.30 284.30 L453.70 285.80 L452.20 287.40 Z" fill="#f2c21c"/><path d="M454.30 286.40 L458.50 287.50 L456.90 289.00 L455.40 290.60 Z" fill="#f2c21c"/><path d="M454.00 286.10 L457.80 290.70" stroke="#f2c21c" stroke-width="1"/><path d="M451.10 299.00 L455.30 300.10 L453.70 301.60 L452.20 303.20 Z" fill="#f2c21c"/><path d="M454.30 302.20 L458.50 303.30 L456.90 304.80 L455.40 306.40 Z" fill="#f2c21c"/><path d="M454.00 301.90 L457.80 306.50" stroke="#f2c21c" stroke-width="1"/><path d="M451.10 313.70 L455.30 314.80 L453.70 316.30 L452.20 317.90 Z" fill="#f2c21c"/><path d="M454.30 316.90 L458.50 318.00 L456.90 319.50 L455.40 321.10 Z" fill="#f2c21c"/><path d="M454.00 316.60 L457.80 321.20" stroke="#f2c21c" stroke-width="1"/><path d="M473.30 303.90 L477.50 305.00 L475.90 306.50 L474.40 308.10 Z" fill="#f2c21c"/><path d="M476.50 307.10 L480.70 308.20 L479.10 309.70 L477.60 311.30 Z" fill="#f2c21c"/><path d="M476.20 306.80 L480.00 311.40" stroke="#f2c21c" stroke-width="1"/><path d="M475.80 358.10 L480.00 359.20 L478.40 360.70 L476.90 362.30 Z" fill="#f2c21c"/><path d="M479.00 361.30 L483.20 362.40 L481.60 363.90 L480.10 365.50 Z" fill="#f2c21c"/><path d="M478.70 361.00 L482.50 365.60" stroke="#f2c21c" stroke-width="1"/><path d="M395.50 353.10 L399.70 354.20 L398.10 355.70 L396.60 357.30 Z" fill="#f2c21c"/><path d="M398.70 356.30 L402.90 357.40 L401.30 358.90 L399.80 360.50 Z" fill="#f2c21c"/><path d="M398.40 356.00 L402.20 360.60" stroke="#f2c21c" stroke-width="1"/><path d="M341.80 356.60 L346.00 357.70 L344.40 359.20 L342.90 360.80 Z" fill="#f2c21c"/><path d="M345.00 359.80 L349.20 360.90 L347.60 362.40 L346.10 364.00 Z" fill="#f2c21c"/><path d="M344.70 359.50 L348.50 364.10" stroke="#f2c21c" stroke-width="1"/><path d="M447.70 356.60 L451.90 357.70 L450.30 359.20 L448.80 360.80 Z" fill="#f2c21c"/><path d="M450.90 359.80 L455.10 360.90 L453.50 362.40 L452.00 364.00 Z" fill="#f2c21c"/><path d="M450.60 359.50 L454.40 364.10" stroke="#f2c21c" stroke-width="1"/><path d="M340.30 408.30 L344.50 409.40 L342.90 410.90 L341.40 412.50 Z" fill="#f2c21c"/><path d="M343.50 411.50 L347.70 412.60 L346.10 414.10 L344.60 415.70 Z" fill="#f2c21c"/><path d="M343.20 411.20 L347.00 415.80" stroke="#f2c21c" stroke-width="1"/><path d="M450.10 408.30 L454.30 409.40 L452.70 410.90 L451.20 412.50 Z" fill="#f2c21c"/><path d="M453.30 411.50 L457.50 412.60 L455.90 414.10 L454.40 415.70 Z" fill="#f2c21c"/><path d="M453.00 411.20 L456.80 415.80" stroke="#f2c21c" stroke-width="1"/><path d="M384.60 467.40 L388.80 468.50 L387.20 470.00 L385.70 471.60 Z" fill="#f2c21c"/><path d="M387.80 470.60 L392.00 471.70 L390.40 473.20 L388.90 474.80 Z" fill="#f2c21c"/><path d="M387.50 470.30 L391.30 474.90" stroke="#f2c21c" stroke-width="1"/><path d="M395.50 464.00 L399.70 465.10 L398.10 466.60 L396.60 468.20 Z" fill="#f2c21c"/><path d="M398.70 467.20 L402.90 468.30 L401.30 469.80 L399.80 471.40 Z" fill="#f2c21c"/><path d="M398.40 466.90 L402.20 471.50" stroke="#f2c21c" stroke-width="1"/><path d="M342.80 461.50 L347.00 462.60 L345.40 464.10 L343.90 465.70 Z" fill="#f2c21c"/><path d="M346.00 464.70 L350.20 465.80 L348.60 467.30 L347.10 468.90 Z" fill="#f2c21c"/><path d="M345.70 464.40 L349.50 469.00" stroke="#f2c21c" stroke-width="1"/><path d="M447.70 461.50 L451.90 462.60 L450.30 464.10 L448.80 465.70 Z" fill="#f2c21c"/><path d="M450.90 464.70 L455.10 465.80 L453.50 467.30 L452.00 468.90 Z" fill="#f2c21c"/><path d="M450.60 464.40 L454.40 469.00" stroke="#f2c21c" stroke-width="1"/><path d="M376.20 510.80 L380.40 511.90 L378.80 513.40 L377.30 515.00 Z" fill="#f2c21c"/><path d="M379.40 514.00 L383.60 515.10 L382.00 516.60 L380.50 518.20 Z" fill="#f2c21c"/><path d="M379.10 513.70 L382.90 518.30" stroke="#f2c21c" stroke-width="1"/><path d="M425.50 523.10 L429.70 524.20 L428.10 525.70 L426.60 527.30 Z" fill="#f2c21c"/><path d="M428.70 526.30 L432.90 527.40 L431.30 528.90 L429.80 530.50 Z" fill="#f2c21c"/><path d="M428.40 526.00 L432.20 530.60" stroke="#f2c21c" stroke-width="1"/><path d="M448.70 507.30 L452.90 508.40 L451.30 509.90 L449.80 511.50 Z" fill="#f2c21c"/><path d="M451.90 510.50 L456.10 511.60 L454.50 513.10 L453.00 514.70 Z" fill="#f2c21c"/><path d="M451.60 510.20 L455.40 514.80" stroke="#f2c21c" stroke-width="1"/><path d="M478.10 503.40 L482.30 504.50 L480.70 506.00 L479.20 507.60 Z" fill="#f2c21c"/><path d="M481.30 506.60 L485.50 507.70 L483.90 509.20 L482.40 510.80 Z" fill="#f2c21c"/><path d="M481.00 506.30 L484.80 510.90" stroke="#f2c21c" stroke-width="1"/><path d="M544.70 503.40 L548.90 504.50 L547.30 506.00 L545.80 507.60 Z" fill="#f2c21c"/><path d="M547.90 506.60 L552.10 507.70 L550.50 509.20 L549.00 510.80 Z" fill="#f2c21c"/><path d="M547.60 506.30 L551.40 510.90" stroke="#f2c21c" stroke-width="1"/><path d="M558.10 383.70 L562.30 384.80 L560.70 386.30 L559.20 387.90 Z" fill="#f2c21c"/><path d="M561.30 386.90 L565.50 388.00 L563.90 389.50 L562.40 391.10 Z" fill="#f2c21c"/><path d="M561.00 386.60 L564.80 391.20" stroke="#f2c21c" stroke-width="1"/><path d="M601.40 392.60 L605.60 393.70 L604.00 395.20 L602.50 396.80 Z" fill="#f2c21c"/><path d="M604.60 395.80 L608.80 396.90 L607.20 398.40 L605.70 400.00 Z" fill="#f2c21c"/><path d="M604.30 395.50 L608.10 400.10" stroke="#f2c21c" stroke-width="1"/><path d="M602.80 400.90 L607.00 402.00 L605.40 403.50 L603.90 405.10 Z" fill="#f2c21c"/><path d="M606.00 404.10 L610.20 405.20 L608.60 406.70 L607.10 408.30 Z" fill="#f2c21c"/><path d="M605.70 403.80 L609.50 408.40" stroke="#f2c21c" stroke-width="1"/><path d="M603.80 408.30 L608.00 409.40 L606.40 410.90 L604.90 412.50 Z" fill="#f2c21c"/><path d="M607.00 411.50 L611.20 412.60 L609.60 414.10 L608.10 415.70 Z" fill="#f2c21c"/><path d="M606.70 411.20 L610.50 415.80" stroke="#f2c21c" stroke-width="1"/><path d="M605.30 270.40 L609.50 271.50 L607.90 273.00 L606.40 274.60 Z" fill="#f2c21c"/><path d="M608.50 273.60 L612.70 274.70 L611.10 276.20 L609.60 277.80 Z" fill="#f2c21c"/><path d="M608.20 273.30 L612.00 277.90" stroke="#f2c21c" stroke-width="1"/><path d="M645.70 260.50 L649.90 261.60 L648.30 263.10 L646.80 264.70 Z" fill="#f2c21c"/><path d="M648.90 263.70 L653.10 264.80 L651.50 266.30 L650.00 267.90 Z" fill="#f2c21c"/><path d="M648.60 263.40 L652.40 268.00" stroke="#f2c21c" stroke-width="1"/><path d="M658.10 260.50 L662.30 261.60 L660.70 263.10 L659.20 264.70 Z" fill="#f2c21c"/><path d="M661.30 263.70 L665.50 264.80 L663.90 266.30 L662.40 267.90 Z" fill="#f2c21c"/><path d="M661.00 263.40 L664.80 268.00" stroke="#f2c21c" stroke-width="1"/><path d="M659.00 269.40 L663.20 270.50 L661.60 272.00 L660.10 273.60 Z" fill="#f2c21c"/><path d="M662.20 272.60 L666.40 273.70 L664.80 275.20 L663.30 276.80 Z" fill="#f2c21c"/><path d="M661.90 272.30 L665.70 276.90" stroke="#f2c21c" stroke-width="1"/><path d="M658.00 357.10 L662.20 358.20 L660.60 359.70 L659.10 361.30 Z" fill="#f2c21c"/><path d="M661.20 360.30 L665.40 361.40 L663.80 362.90 L662.30 364.50 Z" fill="#f2c21c"/><path d="M660.90 360.00 L664.70 364.60" stroke="#f2c21c" stroke-width="1"/><path d="M712.10 262.00 L716.30 263.10 L714.70 264.60 L713.20 266.20 Z" fill="#f2c21c"/><path d="M715.30 265.20 L719.50 266.30 L717.90 267.80 L716.40 269.40 Z" fill="#f2c21c"/><path d="M715.00 264.90 L718.80 269.50" stroke="#f2c21c" stroke-width="1"/><path d="M714.70 272.40 L718.90 273.50 L717.30 275.00 L715.80 276.60 Z" fill="#f2c21c"/><path d="M717.90 275.60 L722.10 276.70 L720.50 278.20 L719.00 279.80 Z" fill="#f2c21c"/><path d="M717.60 275.30 L721.40 279.90" stroke="#f2c21c" stroke-width="1"/><path d="M713.70 283.20 L717.90 284.30 L716.30 285.80 L714.80 287.40 Z" fill="#f2c21c"/><path d="M716.90 286.40 L721.10 287.50 L719.50 289.00 L718.00 290.60 Z" fill="#f2c21c"/><path d="M716.60 286.10 L720.40 290.70" stroke="#f2c21c" stroke-width="1"/><path d="M726.10 289.10 L730.30 290.20 L728.70 291.70 L727.20 293.30 Z" fill="#f2c21c"/><path d="M729.30 292.30 L733.50 293.40 L731.90 294.90 L730.40 296.50 Z" fill="#f2c21c"/><path d="M729.00 292.00 L732.80 296.60" stroke="#f2c21c" stroke-width="1"/><path d="M735.40 272.40 L739.60 273.50 L738.00 275.00 L736.50 276.60 Z" fill="#f2c21c"/><path d="M738.60 275.60 L742.80 276.70 L741.20 278.20 L739.70 279.80 Z" fill="#f2c21c"/><path d="M738.30 275.30 L742.10 279.90" stroke="#f2c21c" stroke-width="1"/><path d="M760.50 260.50 L764.70 261.60 L763.10 263.10 L761.60 264.70 Z" fill="#f2c21c"/><path d="M763.70 263.70 L767.90 264.80 L766.30 266.30 L764.80 267.90 Z" fill="#f2c21c"/><path d="M763.40 263.40 L767.20 268.00" stroke="#f2c21c" stroke-width="1"/><path d="M760.50 273.30 L764.70 274.40 L763.10 275.90 L761.60 277.50 Z" fill="#f2c21c"/><path d="M763.70 276.50 L767.90 277.60 L766.30 279.10 L764.80 280.70 Z" fill="#f2c21c"/><path d="M763.40 276.20 L767.20 280.80" stroke="#f2c21c" stroke-width="1"/><path d="M760.50 283.20 L764.70 284.30 L763.10 285.80 L761.60 287.40 Z" fill="#f2c21c"/><path d="M763.70 286.40 L767.90 287.50 L766.30 289.00 L764.80 290.60 Z" fill="#f2c21c"/><path d="M763.40 286.10 L767.20 290.70" stroke="#f2c21c" stroke-width="1"/><path d="M832.90 305.40 L837.10 306.50 L835.50 308.00 L834.00 309.60 Z" fill="#f2c21c"/><path d="M836.10 308.60 L840.30 309.70 L838.70 311.20 L837.20 312.80 Z" fill="#f2c21c"/><path d="M835.80 308.30 L839.60 312.90" stroke="#f2c21c" stroke-width="1"/><path d="M867.40 305.40 L871.60 306.50 L870.00 308.00 L868.50 309.60 Z" fill="#f2c21c"/><path d="M870.60 308.60 L874.80 309.70 L873.20 311.20 L871.70 312.80 Z" fill="#f2c21c"/><path d="M870.30 308.30 L874.10 312.90" stroke="#f2c21c" stroke-width="1"/><path d="M759.10 353.10 L763.30 354.20 L761.70 355.70 L760.20 357.30 Z" fill="#f2c21c"/><path d="M762.30 356.30 L766.50 357.40 L764.90 358.90 L763.40 360.50 Z" fill="#f2c21c"/><path d="M762.00 356.00 L765.80 360.60" stroke="#f2c21c" stroke-width="1"/><path d="M811.70 354.60 L815.90 355.70 L814.30 357.20 L812.80 358.80 Z" fill="#f2c21c"/><path d="M814.90 357.80 L819.10 358.90 L817.50 360.40 L816.00 362.00 Z" fill="#f2c21c"/><path d="M814.60 357.50 L818.40 362.10" stroke="#f2c21c" stroke-width="1"/><path d="M862.40 353.10 L866.60 354.20 L865.00 355.70 L863.50 357.30 Z" fill="#f2c21c"/><path d="M865.60 356.30 L869.80 357.40 L868.20 358.90 L866.70 360.50 Z" fill="#f2c21c"/><path d="M865.30 356.00 L869.10 360.60" stroke="#f2c21c" stroke-width="1"/><path d="M756.60 408.30 L760.80 409.40 L759.20 410.90 L757.70 412.50 Z" fill="#f2c21c"/><path d="M759.80 411.50 L764.00 412.60 L762.40 414.10 L760.90 415.70 Z" fill="#f2c21c"/><path d="M759.50 411.20 L763.30 415.80" stroke="#f2c21c" stroke-width="1"/><path d="M811.70 408.30 L815.90 409.40 L814.30 410.90 L812.80 412.50 Z" fill="#f2c21c"/><path d="M814.90 411.50 L819.10 412.60 L817.50 414.10 L816.00 415.70 Z" fill="#f2c21c"/><path d="M814.60 411.20 L818.40 415.80" stroke="#f2c21c" stroke-width="1"/><path d="M866.40 408.30 L870.60 409.40 L869.00 410.90 L867.50 412.50 Z" fill="#f2c21c"/><path d="M869.60 411.50 L873.80 412.60 L872.20 414.10 L870.70 415.70 Z" fill="#f2c21c"/><path d="M869.30 411.20 L873.10 415.80" stroke="#f2c21c" stroke-width="1"/><path d="M759.10 459.10 L763.30 460.20 L761.70 461.70 L760.20 463.30 Z" fill="#f2c21c"/><path d="M762.30 462.30 L766.50 463.40 L764.90 464.90 L763.40 466.50 Z" fill="#f2c21c"/><path d="M762.00 462.00 L765.80 466.60" stroke="#f2c21c" stroke-width="1"/><path d="M811.70 464.00 L815.90 465.10 L814.30 466.60 L812.80 468.20 Z" fill="#f2c21c"/><path d="M814.90 467.20 L819.10 468.30 L817.50 469.80 L816.00 471.40 Z" fill="#f2c21c"/><path d="M814.60 466.90 L818.40 471.50" stroke="#f2c21c" stroke-width="1"/><path d="M862.40 460.00 L866.60 461.10 L865.00 462.60 L863.50 464.20 Z" fill="#f2c21c"/><path d="M865.60 463.20 L869.80 464.30 L868.20 465.80 L866.70 467.40 Z" fill="#f2c21c"/><path d="M865.30 462.90 L869.10 467.50" stroke="#f2c21c" stroke-width="1"/><path d="M877.20 495.00 L881.40 496.10 L879.80 497.60 L878.30 499.20 Z" fill="#f2c21c"/><path d="M880.40 498.20 L884.60 499.30 L883.00 500.80 L881.50 502.40 Z" fill="#f2c21c"/><path d="M880.10 497.90 L883.90 502.50" stroke="#f2c21c" stroke-width="1"/><path d="M817.10 510.80 L821.30 511.90 L819.70 513.40 L818.20 515.00 Z" fill="#f2c21c"/><path d="M820.30 514.00 L824.50 515.10 L822.90 516.60 L821.40 518.20 Z" fill="#f2c21c"/><path d="M820.00 513.70 L823.80 518.30" stroke="#f2c21c" stroke-width="1"/><path d="M425.10 416.10 L429.30 417.20 L427.70 418.70 L426.20 420.30 Z" fill="#f2c21c"/><path d="M428.30 419.30 L432.50 420.40 L430.90 421.90 L429.40 423.50 Z" fill="#f2c21c"/><path d="M428.00 419.00 L431.80 423.60" stroke="#f2c21c" stroke-width="1"/><rect x="300" y="240" width="610" height="290" fill="url(#gp)" opacity="0.35"/><path d="M296.9 302.8 V359" stroke="#2a3850" stroke-width="1.6"/><path d="M268.3 331.4 H325" stroke="#4a5a70" stroke-width="0.9" opacity="0.85"/><path d="M710.5 716 V703.5 H1083" stroke="#a838a8" stroke-width="0.9" fill="none"/></g>
<rect x="40" y="27" width="1200" height="20" fill="#383838"/><rect x="40" y="47" width="1200" height="1" fill="#1c1c1c"/><circle cx="50" cy="37" r="4.6" fill="#ec5f5a"/><circle cx="64.5" cy="37" r="4.6" fill="#f4be34"/><circle cx="78.5" cy="37" r="4.6" fill="#2fc742"/><text x="640" y="40.2" font-size="9.8" fill="#cfcfcf" text-anchor="middle" font-weight="bold" letter-spacing="-0.25">sprig_console — PCB Editor</text><rect x="68.5" y="51" width="1" height="16" fill="#454545"/><rect x="97.5" y="51" width="1" height="16" fill="#454545"/><rect x="173.1" y="51" width="1" height="16" fill="#454545"/><rect x="225.1" y="51" width="1" height="16" fill="#454545"/><rect x="253.9" y="51" width="1" height="16" fill="#454545"/><rect x="397.9" y="51" width="1" height="16" fill="#454545"/><rect x="587.0" y="51" width="1" height="16" fill="#454545"/><rect x="662.2" y="51" width="1" height="16" fill="#454545"/><rect x="714.2" y="51" width="1" height="16" fill="#454545"/><rect x="743.1" y="51" width="1" height="16" fill="#454545"/><rect x="44" y="76" width="152" height="15" rx="4" fill="#5a5a5a"/><rect x="44" y="76" width="152" height="15" rx="4" fill="none" stroke="#6a6a6a" stroke-width="0.5"/><text x="49" y="86.4" font-size="9.6" fill="#f0f0f0" stroke="#f0f0f0" stroke-width="0.22" text-anchor="start" font-weight="normal" >Track: use netclass width</text><rect x="182.5" y="77.5" width="12" height="12" rx="2.6" fill="#2a6ff2"/><path d="M186.3 82.3 L188.5 80.1 L190.7 82.3 M186.3 84.7 L188.5 86.9 L190.7 84.7" stroke="#fff" stroke-width="1" fill="none" stroke-linecap="round" stroke-linejoin="round"/><rect x="197.5" y="72.5" width="21" height="21" rx="1.5" fill="#14213a" stroke="#3b5878" stroke-width="1"/><path d="M201.5 76 V88 Q201.5 90.5 204 90.5 H212 Q214.5 90.5 214.5 88 V76" stroke="#e6e6e6" stroke-width="1.6" fill="none"/><path d="M205 81.5 H211 M205 84 H211" stroke="#d8d8d8" stroke-width="1"/><circle cx="208" cy="90.5" r="2" fill="#35a8e8"/><rect x="222" y="74" width="1" height="18" fill="#454545"/><rect x="226.5" y="76.3" width="127.5" height="14.5" rx="4" fill="#5a5a5a"/><rect x="226.5" y="76.3" width="127.5" height="14.5" rx="4" fill="none" stroke="#6a6a6a" stroke-width="0.5"/><text x="232" y="86.45" font-size="9.6" fill="#f0f0f0" stroke="#f0f0f0" stroke-width="0.22" text-anchor="start" font-weight="normal" >Via: use netclass sizes</text><rect x="341.0" y="77.8" width="11.5" height="11.5" rx="2.6" fill="#2a6ff2"/><path d="M344.55 82.35 L346.75 80.14999999999999 L348.95 82.35 M344.55 84.75 L346.75 86.95 L348.95 84.75" stroke="#fff" stroke-width="1" fill="none" stroke-linecap="round" stroke-linejoin="round"/><rect x="357.5" y="74" width="1" height="18" fill="#454545"/><rect x="362.5" y="75.5" width="108" height="15" fill="#1c1c1c" stroke="#6a6a6a" stroke-width="0.8"/><rect x="366" y="79" width="9" height="8.5" fill="#c83434"/><text x="379" y="86.8" font-size="9.6" fill="#ececec" stroke="#ececec" stroke-width="0.22" text-anchor="start" font-weight="normal" >F.Cu (PgUp)</text><rect x="473" y="76" width="15" height="14.6" rx="3" fill="#f2f2f2"/><path d="M478 82 L480.5 84.5 L483 82" stroke="#222" stroke-width="1.2" fill="none"/><path d="M491.7 74.7 H502.5 L494 92 H491.7 Z" fill="#cc3333"/><path d="M503.5 74.7 H509.7 V92 H495 Z" fill="#4d7fce"/><path d="M502.8 74.7 L494.3 92" stroke="#bbb" stroke-width="1"/><rect x="514.5" y="74" width="1" height="18" fill="#454545"/><rect x="519" y="76.3" width="168" height="14.5" rx="4" fill="#5a5a5a"/><rect x="519" y="76.3" width="168" height="14.5" rx="4" fill="none" stroke="#6a6a6a" stroke-width="0.5"/><text x="525.5" y="86.45" font-size="9.6" fill="#f0f0f0" stroke="#f0f0f0" stroke-width="0.22" text-anchor="start" font-weight="normal" >User Grid: 0.2540 mm (0.0100 in)</text><rect x="674.0" y="77.8" width="11.5" height="11.5" rx="2.6" fill="#2a6ff2"/><path d="M677.55 82.35 L679.75 80.14999999999999 L681.95 82.35 M677.55 84.75 L679.75 86.95 L681.95 84.75" stroke="#fff" stroke-width="1" fill="none" stroke-linecap="round" stroke-linejoin="round"/><rect x="691.5" y="74" width="1" height="18" fill="#454545"/><rect x="696" y="76.3" width="81" height="14.5" rx="4" fill="#5a5a5a"/><rect x="696" y="76.3" width="81" height="14.5" rx="4" fill="none" stroke="#6a6a6a" stroke-width="0.5"/><text x="701.6" y="86.45" font-size="9.6" fill="#f0f0f0" stroke="#f0f0f0" stroke-width="0.22" text-anchor="start" font-weight="normal" >Zoom 1.50</text><rect x="764.0" y="77.8" width="11.5" height="11.5" rx="2.6" fill="#2a6ff2"/><path d="M767.55 82.35 L769.75 80.14999999999999 L771.95 82.35 M767.55 84.75 L769.75 86.95 L771.95 84.75" stroke="#fff" stroke-width="1" fill="none" stroke-linecap="round" stroke-linejoin="round"/><rect x="40" y="715" width="1200" height="24" fill="#323232"/><rect x="40" y="739" width="1200" height="1" fill="#1e1e1e"/><text x="47.6" y="726.3" font-size="8.4" fill="#dcdcdc" stroke="#dcdcdc" stroke-width="0.22" text-anchor="start" font-weight="normal" >Pads</text><text x="47.6" y="737.6" font-size="8.6" fill="#dcdcdc" stroke="#dcdcdc" stroke-width="0.22" text-anchor="start" font-weight="normal" >202</text><text x="87.9" y="726.3" font-size="8.4" fill="#dcdcdc" stroke="#dcdcdc" stroke-width="0.22" text-anchor="start" font-weight="normal" >Vias</text><text x="87.9" y="737.6" font-size="8.6" fill="#dcdcdc" stroke="#dcdcdc" stroke-width="0.22" text-anchor="start" font-weight="normal" >17</text><text x="126" y="726.3" font-size="8.4" fill="#dcdcdc" stroke="#dcdcdc" stroke-width="0.22" text-anchor="start" font-weight="normal" >Track Segments</text><text x="126" y="737.6" font-size="8.6" fill="#dcdcdc" stroke="#dcdcdc" stroke-width="0.22" text-anchor="start" font-weight="normal" >323</text><text x="207.6" y="726.3" font-size="8.4" fill="#dcdcdc" stroke="#dcdcdc" stroke-width="0.22" text-anchor="start" font-weight="normal" >Nets</text><text x="207.6" y="737.6" font-size="8.6" fill="#dcdcdc" stroke="#dcdcdc" stroke-width="0.22" text-anchor="start" font-weight="normal" >59</text><text x="247.5" y="726.3" font-size="8.4" fill="#dcdcdc" stroke="#dcdcdc" stroke-width="0.22" text-anchor="start" font-weight="normal" >Unrouted</text><text x="247.5" y="737.6" font-size="8.6" fill="#dcdcdc" stroke="#dcdcdc" stroke-width="0.22" text-anchor="start" font-weight="normal" >2</text><text x="43.6" y="752" font-size="8.4" fill="#c4c4c4" stroke="#c4c4c4" stroke-width="0.22" text-anchor="start" font-weight="normal" >File '/Users/ajs256/Downloads/hackclub sprig main hardware-hardware/kicad/sprig_console.kicad_pcb' saved.</text><text x="527" y="752" font-size="8.4" fill="#c4c4c4" stroke="#c4c4c4" stroke-width="0.22" text-anchor="start" font-weight="normal" >Z 1.68</text><text x="577.8" y="752" font-size="8.4" fill="#c4c4c4" stroke="#c4c4c4" stroke-width="0.22" text-anchor="start" font-weight="normal" >X 81.0260  Y 79.7560</text><text x="689.8" y="752" font-size="8.4" fill="#c4c4c4" stroke="#c4c4c4" stroke-width="0.22" text-anchor="start" font-weight="normal" >dx 81.0260  dy 79.7560  dist 113.6936</text><text x="869.6" y="752" font-size="8.4" fill="#c4c4c4" stroke="#c4c4c4" stroke-width="0.22" text-anchor="start" font-weight="normal" >grid 0.2540</text><text x="998.7" y="752" font-size="8.4" fill="#c4c4c4" stroke="#c4c4c4" stroke-width="0.22" text-anchor="start" font-weight="normal" >mm</text><text x="1037.9" y="752" font-size="8.4" fill="#c4c4c4" stroke="#c4c4c4" stroke-width="0.22" text-anchor="start" font-weight="normal" >Select item(s)</text><rect x="1111" y="96" width="129" height="619" fill="#323232"/><rect x="1111" y="96" width="129" height="11.5" fill="#212121"/><text x="1113.5" y="104.6" font-size="8.2" fill="#ececec" stroke="#ececec" stroke-width="0.22" text-anchor="start" font-weight="normal" >Appearance</text><rect x="1112.5" y="121" width="126" height="439.5" rx="4" fill="#373737" stroke="#3e3e3e" stroke-width="0.6"/><rect x="1115" y="117.5" width="121" height="14.5" rx="4" fill="#3a3a3a" stroke="#474747" stroke-width="0.5"/><rect x="1115.8" y="117.6" width="40.5" height="14.2" rx="3.5" fill="#646464"/><text x="1136" y="127.6" font-size="8.4" fill="#efefef" stroke="#efefef" stroke-width="0.22" text-anchor="middle" font-weight="normal" >Layers</text><text x="1179.4" y="127.6" font-size="8.5" fill="#e6e6e6" stroke="#e6e6e6" stroke-width="0.22" text-anchor="middle" font-weight="normal" >Objects</text><text x="1218.5" y="127.6" font-size="8.6" fill="#e6e6e6" stroke="#e6e6e6" stroke-width="0.22" text-anchor="middle" font-weight="normal" >Nets</text><rect x="1201" y="120.5" width="0.7" height="9" fill="#555"/><rect x="1113" y="137" width="124" height="12.5" fill="#424242"/><path d="M1117.6 139.4 L1122 143.3 L1117.6 147.2 Z" fill="#2f7cf6"/><rect x="1126" y="138.70" width="12" height="9.2" fill="#c83434"/><circle cx="1147.8" cy="143.3" r="6.4" fill="#000" opacity="0.13"/><path d="M1143.30 143.3 Q1147.8 137.90 1152.30 143.3 Q1147.8 148.70 1143.30 143.3 Z" fill="none" stroke="#ececec" stroke-width="1.25" stroke-linejoin="round"/><circle cx="1147.8" cy="143.3" r="1.45" fill="none" stroke="#ececec" stroke-width="1.1"/><text x="1157.3" y="146.5" font-size="8.8" fill="#e4e4e4" stroke="#e4e4e4" stroke-width="0.22" text-anchor="start" font-weight="normal" >F.Cu</text><rect x="1126" y="151.56" width="12" height="9.2" fill="#4d7fc4"/><circle cx="1147.8" cy="156.16" r="6.4" fill="#000" opacity="0.13"/><path d="M1143.30 156.16 Q1147.8 150.76 1152.30 156.16 Q1147.8 161.56 1143.30 156.16 Z" fill="none" stroke="#ececec" stroke-width="1.25" stroke-linejoin="round"/><circle cx="1147.8" cy="156.16" r="1.45" fill="none" stroke="#ececec" stroke-width="1.1"/><text x="1157.3" y="159.36" font-size="8.8" fill="#e4e4e4" stroke="#e4e4e4" stroke-width="0.22" text-anchor="start" font-weight="normal" >B.Cu</text><rect x="1126" y="164.41" width="12" height="9.2" fill="#84398a"/><circle cx="1147.8" cy="169.01" r="6.4" fill="#000" opacity="0.13"/><path d="M1143.30 169.01 Q1147.8 163.61 1152.30 169.01 Q1147.8 174.41 1143.30 169.01 Z" fill="none" stroke="#ececec" stroke-width="1.25" stroke-linejoin="round"/><circle cx="1147.8" cy="169.01" r="1.45" fill="none" stroke="#ececec" stroke-width="1.1"/><text x="1157.3" y="172.21" font-size="8.8" fill="#e4e4e4" stroke="#e4e4e4" stroke-width="0.22" text-anchor="start" font-weight="normal" >F.Adhesive</text><rect x="1126" y="177.27" width="12" height="9.2" fill="#00008a"/><circle cx="1147.8" cy="181.87" r="6.4" fill="#000" opacity="0.13"/><path d="M1143.30 181.87 Q1147.8 176.47 1152.30 181.87 Q1147.8 187.27 1143.30 181.87 Z" fill="none" stroke="#ececec" stroke-width="1.25" stroke-linejoin="round"/><circle cx="1147.8" cy="181.87" r="1.45" fill="none" stroke="#ececec" stroke-width="1.1"/><text x="1157.3" y="185.07" font-size="8.8" fill="#e4e4e4" stroke="#e4e4e4" stroke-width="0.22" text-anchor="start" font-weight="normal" >B.Adhesive</text><rect x="1126" y="190.13" width="12" height="9.2" fill="#a09494"/><circle cx="1147.8" cy="194.73" r="6.4" fill="#000" opacity="0.13"/><path d="M1143.30 194.73 Q1147.8 189.33 1152.30 194.73 Q1147.8 200.13 1143.30 194.73 Z" fill="none" stroke="#ececec" stroke-width="1.25" stroke-linejoin="round"/><circle cx="1147.8" cy="194.73" r="1.45" fill="none" stroke="#ececec" stroke-width="1.1"/><text x="1157.3" y="197.93" font-size="8.8" fill="#e4e4e4" stroke="#e4e4e4" stroke-width="0.22" text-anchor="start" font-weight="normal" >F.Paste</text><rect x="1126" y="202.99" width="12" height="9.2" fill="#00c2c2"/><circle cx="1147.8" cy="207.59" r="6.4" fill="#000" opacity="0.13"/><path d="M1143.30 207.59 Q1147.8 202.19 1152.30 207.59 Q1147.8 212.99 1143.30 207.59 Z" fill="none" stroke="#ececec" stroke-width="1.25" stroke-linejoin="round"/><circle cx="1147.8" cy="207.59" r="1.45" fill="none" stroke="#ececec" stroke-width="1.1"/><text x="1157.3" y="210.78" font-size="8.8" fill="#e4e4e4" stroke="#e4e4e4" stroke-width="0.22" text-anchor="start" font-weight="normal" >B.Paste</text><rect x="1126" y="215.84" width="12" height="9.2" fill="#f2eda1"/><circle cx="1147.8" cy="220.44" r="6.4" fill="#000" opacity="0.13"/><path d="M1143.30 220.44 Q1147.8 215.04 1152.30 220.44 Q1147.8 225.84 1143.30 220.44 Z" fill="none" stroke="#ececec" stroke-width="1.25" stroke-linejoin="round"/><circle cx="1147.8" cy="220.44" r="1.45" fill="none" stroke="#ececec" stroke-width="1.1"/><text x="1157.3" y="223.64" font-size="8.8" fill="#e4e4e4" stroke="#e4e4e4" stroke-width="0.22" text-anchor="start" font-weight="normal" >F.Silkscreen</text><rect x="1126" y="228.70" width="12" height="9.2" fill="#e8b2a7"/><circle cx="1147.8" cy="233.3" r="6.4" fill="#000" opacity="0.13"/><path d="M1143.30 233.3 Q1147.8 227.90 1152.30 233.3 Q1147.8 238.70 1143.30 233.3 Z" fill="none" stroke="#ececec" stroke-width="1.25" stroke-linejoin="round"/><circle cx="1147.8" cy="233.3" r="1.45" fill="none" stroke="#ececec" stroke-width="1.1"/><text x="1157.3" y="236.5" font-size="8.8" fill="#e4e4e4" stroke="#e4e4e4" stroke-width="0.22" text-anchor="start" font-weight="normal" >B.Silkscreen</text><rect x="1126" y="241.56" width="12" height="9.2" fill="#7a2e7a"/><circle cx="1147.8" cy="246.16" r="6.4" fill="#000" opacity="0.13"/><path d="M1143.30 246.16 Q1147.8 240.76 1152.30 246.16 Q1147.8 251.56 1143.30 246.16 Z" fill="none" stroke="#ececec" stroke-width="1.25" stroke-linejoin="round"/><circle cx="1147.8" cy="246.16" r="1.45" fill="none" stroke="#ececec" stroke-width="1.1"/><text x="1157.3" y="249.36" font-size="8.8" fill="#e4e4e4" stroke="#e4e4e4" stroke-width="0.22" text-anchor="start" font-weight="normal" >F.Mask</text><rect x="1126" y="254.41" width="12" height="9.2" fill="#026b6b"/><circle cx="1147.8" cy="259.01" r="6.4" fill="#000" opacity="0.13"/><path d="M1143.30 259.01 Q1147.8 253.61 1152.30 259.01 Q1147.8 264.41 1143.30 259.01 Z" fill="none" stroke="#ececec" stroke-width="1.25" stroke-linejoin="round"/><circle cx="1147.8" cy="259.01" r="1.45" fill="none" stroke="#ececec" stroke-width="1.1"/><text x="1157.3" y="262.21" font-size="8.8" fill="#e4e4e4" stroke="#e4e4e4" stroke-width="0.22" text-anchor="start" font-weight="normal" >B.Mask</text><rect x="1126" y="267.27" width="12" height="9.2" fill="#c2c2c2"/><circle cx="1147.8" cy="271.87" r="6.4" fill="#000" opacity="0.13"/><path d="M1143.30 271.87 Q1147.8 266.47 1152.30 271.87 Q1147.8 277.27 1143.30 271.87 Z" fill="none" stroke="#ececec" stroke-width="1.25" stroke-linejoin="round"/><circle cx="1147.8" cy="271.87" r="1.45" fill="none" stroke="#ececec" stroke-width="1.1"/><text x="1157.3" y="275.07" font-size="8.8" fill="#e4e4e4" stroke="#e4e4e4" stroke-width="0.22" text-anchor="start" font-weight="normal" >User.Drawings</text><rect x="1126" y="280.13" width="12" height="9.2" fill="#5994dc"/><circle cx="1147.8" cy="284.73" r="6.4" fill="#000" opacity="0.13"/><path d="M1143.30 284.73 Q1147.8 279.33 1152.30 284.73 Q1147.8 290.13 1143.30 284.73 Z" fill="none" stroke="#ececec" stroke-width="1.25" stroke-linejoin="round"/><circle cx="1147.8" cy="284.73" r="1.45" fill="none" stroke="#ececec" stroke-width="1.1"/><text x="1157.3" y="287.93" font-size="8.8" fill="#e4e4e4" stroke="#e4e4e4" stroke-width="0.22" text-anchor="start" font-weight="normal" >User.Comments</text><rect x="1126" y="292.98" width="12" height="9.2" fill="#b4dbd2"/><circle cx="1147.8" cy="297.58" r="6.4" fill="#000" opacity="0.13"/><path d="M1143.30 297.58 Q1147.8 292.18 1152.30 297.58 Q1147.8 302.98 1143.30 297.58 Z" fill="none" stroke="#ececec" stroke-width="1.25" stroke-linejoin="round"/><circle cx="1147.8" cy="297.58" r="1.45" fill="none" stroke="#ececec" stroke-width="1.1"/><text x="1157.3" y="300.78" font-size="8.8" fill="#e4e4e4" stroke="#e4e4e4" stroke-width="0.22" text-anchor="start" font-weight="normal" >User.Eco1</text><rect x="1126" y="305.84" width="12" height="9.2" fill="#d8c852"/><circle cx="1147.8" cy="310.44" r="6.4" fill="#000" opacity="0.13"/><path d="M1143.30 310.44 Q1147.8 305.04 1152.30 310.44 Q1147.8 315.84 1143.30 310.44 Z" fill="none" stroke="#ececec" stroke-width="1.25" stroke-linejoin="round"/><circle cx="1147.8" cy="310.44" r="1.45" fill="none" stroke="#ececec" stroke-width="1.1"/><text x="1157.3" y="313.64" font-size="8.8" fill="#e4e4e4" stroke="#e4e4e4" stroke-width="0.22" text-anchor="start" font-weight="normal" >User.Eco2</text><rect x="1126" y="318.70" width="12" height="9.2" fill="#d0d2cd"/><circle cx="1147.8" cy="323.3" r="6.4" fill="#000" opacity="0.13"/><path d="M1143.30 323.3 Q1147.8 317.90 1152.30 323.3 Q1147.8 328.70 1143.30 323.3 Z" fill="none" stroke="#ececec" stroke-width="1.25" stroke-linejoin="round"/><circle cx="1147.8" cy="323.3" r="1.45" fill="none" stroke="#ececec" stroke-width="1.1"/><text x="1157.3" y="326.5" font-size="8.8" fill="#e4e4e4" stroke="#e4e4e4" stroke-width="0.22" text-anchor="start" font-weight="normal" >Edge.Cuts</text><rect x="1126" y="331.55" width="12" height="9.2" fill="#ff26e2"/><circle cx="1147.8" cy="336.15" r="6.4" fill="#000" opacity="0.13"/><path d="M1143.30 336.15 Q1147.8 330.75 1152.30 336.15 Q1147.8 341.55 1143.30 336.15 Z" fill="none" stroke="#ececec" stroke-width="1.25" stroke-linejoin="round"/><circle cx="1147.8" cy="336.15" r="1.45" fill="none" stroke="#ececec" stroke-width="1.1"/><text x="1157.3" y="339.35" font-size="8.8" fill="#e4e4e4" stroke="#e4e4e4" stroke-width="0.22" text-anchor="start" font-weight="normal" >Margin</text><rect x="1126" y="344.41" width="12" height="9.2" fill="#ff26e2"/><circle cx="1147.8" cy="349.01" r="6.4" fill="#000" opacity="0.13"/><path d="M1143.30 349.01 Q1147.8 343.61 1152.30 349.01 Q1147.8 354.41 1143.30 349.01 Z" fill="none" stroke="#ececec" stroke-width="1.25" stroke-linejoin="round"/><circle cx="1147.8" cy="349.01" r="1.45" fill="none" stroke="#ececec" stroke-width="1.1"/><text x="1157.3" y="352.21" font-size="8.8" fill="#e4e4e4" stroke="#e4e4e4" stroke-width="0.22" text-anchor="start" font-weight="normal" >F.Courtyard</text><rect x="1126" y="357.27" width="12" height="9.2" fill="#26e9ff"/><circle cx="1147.8" cy="361.87" r="6.4" fill="#000" opacity="0.13"/><path d="M1143.30 361.87 Q1147.8 356.47 1152.30 361.87 Q1147.8 367.27 1143.30 361.87 Z" fill="none" stroke="#ececec" stroke-width="1.25" stroke-linejoin="round"/><circle cx="1147.8" cy="361.87" r="1.45" fill="none" stroke="#ececec" stroke-width="1.1"/><text x="1157.3" y="365.07" font-size="8.8" fill="#e4e4e4" stroke="#e4e4e4" stroke-width="0.22" text-anchor="start" font-weight="normal" >B.Courtyard</text><rect x="1126" y="370.13" width="12" height="9.2" fill="#afafaf"/><circle cx="1147.8" cy="374.73" r="6.4" fill="#000" opacity="0.13"/><path d="M1143.30 374.73 Q1147.8 369.33 1152.30 374.73 Q1147.8 380.13 1143.30 374.73 Z" fill="none" stroke="#ececec" stroke-width="1.25" stroke-linejoin="round"/><circle cx="1147.8" cy="374.73" r="1.45" fill="none" stroke="#ececec" stroke-width="1.1"/><text x="1157.3" y="377.93" font-size="8.8" fill="#e4e4e4" stroke="#e4e4e4" stroke-width="0.22" text-anchor="start" font-weight="normal" >F.Fab</text><rect x="1126" y="382.98" width="12" height="9.2" fill="#58678f"/><circle cx="1147.8" cy="387.58" r="6.4" fill="#000" opacity="0.13"/><path d="M1143.30 387.58 Q1147.8 382.18 1152.30 387.58 Q1147.8 392.98 1143.30 387.58 Z" fill="none" stroke="#ececec" stroke-width="1.25" stroke-linejoin="round"/><circle cx="1147.8" cy="387.58" r="1.45" fill="none" stroke="#ececec" stroke-width="1.1"/><text x="1157.3" y="390.78" font-size="8.8" fill="#e4e4e4" stroke="#e4e4e4" stroke-width="0.22" text-anchor="start" font-weight="normal" >B.Fab</text><rect x="1126" y="395.84" width="12" height="9.2" fill="#c2c2c2"/><circle cx="1147.8" cy="400.44" r="6.4" fill="#000" opacity="0.13"/><path d="M1143.30 400.44 Q1147.8 395.04 1152.30 400.44 Q1147.8 405.84 1143.30 400.44 Z" fill="none" stroke="#ececec" stroke-width="1.25" stroke-linejoin="round"/><circle cx="1147.8" cy="400.44" r="1.45" fill="none" stroke="#ececec" stroke-width="1.1"/><text x="1157.3" y="403.64" font-size="8.8" fill="#e4e4e4" stroke="#e4e4e4" stroke-width="0.22" text-anchor="start" font-weight="normal" >User.1</text><rect x="1126" y="408.70" width="12" height="9.2" fill="#5994dc"/><circle cx="1147.8" cy="413.3" r="6.4" fill="#000" opacity="0.13"/><path d="M1143.30 413.3 Q1147.8 407.90 1152.30 413.3 Q1147.8 418.70 1143.30 413.3 Z" fill="none" stroke="#ececec" stroke-width="1.25" stroke-linejoin="round"/><circle cx="1147.8" cy="413.3" r="1.45" fill="none" stroke="#ececec" stroke-width="1.1"/><text x="1157.3" y="416.5" font-size="8.8" fill="#e4e4e4" stroke="#e4e4e4" stroke-width="0.22" text-anchor="start" font-weight="normal" >User.2</text><rect x="1126" y="421.55" width="12" height="9.2" fill="#b4dbd2"/><circle cx="1147.8" cy="426.15" r="6.4" fill="#000" opacity="0.13"/><path d="M1143.30 426.15 Q1147.8 420.75 1152.30 426.15 Q1147.8 431.55 1143.30 426.15 Z" fill="none" stroke="#ececec" stroke-width="1.25" stroke-linejoin="round"/><circle cx="1147.8" cy="426.15" r="1.45" fill="none" stroke="#ececec" stroke-width="1.1"/><text x="1157.3" y="429.35" font-size="8.8" fill="#e4e4e4" stroke="#e4e4e4" stroke-width="0.22" text-anchor="start" font-weight="normal" >User.3</text><rect x="1126" y="434.41" width="12" height="9.2" fill="#d8c852"/><circle cx="1147.8" cy="439.01" r="6.4" fill="#000" opacity="0.13"/><path d="M1143.30 439.01 Q1147.8 433.61 1152.30 439.01 Q1147.8 444.41 1143.30 439.01 Z" fill="none" stroke="#ececec" stroke-width="1.25" stroke-linejoin="round"/><circle cx="1147.8" cy="439.01" r="1.45" fill="none" stroke="#ececec" stroke-width="1.1"/><text x="1157.3" y="442.21" font-size="8.8" fill="#e4e4e4" stroke="#e4e4e4" stroke-width="0.22" text-anchor="start" font-weight="normal" >User.4</text><rect x="1126" y="447.27" width="12" height="9.2" fill="#c2c2c2"/><circle cx="1147.8" cy="451.87" r="6.4" fill="#000" opacity="0.13"/><path d="M1143.30 451.87 Q1147.8 446.47 1152.30 451.87 Q1147.8 457.27 1143.30 451.87 Z" fill="none" stroke="#ececec" stroke-width="1.25" stroke-linejoin="round"/><circle cx="1147.8" cy="451.87" r="1.45" fill="none" stroke="#ececec" stroke-width="1.1"/><text x="1157.3" y="455.07" font-size="8.8" fill="#e4e4e4" stroke="#e4e4e4" stroke-width="0.22" text-anchor="start" font-weight="normal" >User.5</text><rect x="1126" y="460.12" width="12" height="9.2" fill="#5994dc"/><circle cx="1147.8" cy="464.72" r="6.4" fill="#000" opacity="0.13"/><path d="M1143.30 464.72 Q1147.8 459.32 1152.30 464.72 Q1147.8 470.12 1143.30 464.72 Z" fill="none" stroke="#ececec" stroke-width="1.25" stroke-linejoin="round"/><circle cx="1147.8" cy="464.72" r="1.45" fill="none" stroke="#ececec" stroke-width="1.1"/><text x="1157.3" y="467.92" font-size="8.8" fill="#e4e4e4" stroke="#e4e4e4" stroke-width="0.22" text-anchor="start" font-weight="normal" >User.6</text><rect x="1126" y="472.98" width="12" height="9.2" fill="#b4dbd2"/><circle cx="1147.8" cy="477.58" r="6.4" fill="#000" opacity="0.13"/><path d="M1143.30 477.58 Q1147.8 472.18 1152.30 477.58 Q1147.8 482.98 1143.30 477.58 Z" fill="none" stroke="#ececec" stroke-width="1.25" stroke-linejoin="round"/><circle cx="1147.8" cy="477.58" r="1.45" fill="none" stroke="#ececec" stroke-width="1.1"/><text x="1157.3" y="480.78" font-size="8.8" fill="#e4e4e4" stroke="#e4e4e4" stroke-width="0.22" text-anchor="start" font-weight="normal" >User.7</text><rect x="1126" y="485.84" width="12" height="9.2" fill="#d8c852"/><circle cx="1147.8" cy="490.44" r="6.4" fill="#000" opacity="0.13"/><path d="M1143.30 490.44 Q1147.8 485.04 1152.30 490.44 Q1147.8 495.84 1143.30 490.44 Z" fill="none" stroke="#ececec" stroke-width="1.25" stroke-linejoin="round"/><circle cx="1147.8" cy="490.44" r="1.45" fill="none" stroke="#ececec" stroke-width="1.1"/><text x="1157.3" y="493.64" font-size="8.8" fill="#e4e4e4" stroke="#e4e4e4" stroke-width="0.22" text-anchor="start" font-weight="normal" >User.8</text><rect x="1126" y="498.70" width="12" height="9.2" fill="#e8b2a7"/><circle cx="1147.8" cy="503.3" r="6.4" fill="#000" opacity="0.13"/><path d="M1143.30 503.3 Q1147.8 497.90 1152.30 503.3 Q1147.8 508.70 1143.30 503.3 Z" fill="none" stroke="#ececec" stroke-width="1.25" stroke-linejoin="round"/><circle cx="1147.8" cy="503.3" r="1.45" fill="none" stroke="#ececec" stroke-width="1.1"/><text x="1157.3" y="506.5" font-size="8.8" fill="#e4e4e4" stroke="#e4e4e4" stroke-width="0.22" text-anchor="start" font-weight="normal" >User.9</text><path d="M1122.5 548 L1125.7 551.2 L1122.5 554.4 Z" fill="#f0f0f0"/><text x="1127.4" y="554.4" font-size="8.95" fill="#e4e4e4" stroke="#e4e4e4" stroke-width="0.22" text-anchor="start" font-weight="normal" >Layer Display Options</text><text x="1116.6" y="572.3" font-size="9.0" fill="#e4e4e4" stroke="#e4e4e4" stroke-width="0.22" text-anchor="start" font-weight="normal" >Presets (Ctrl+Tab):</text><rect x="1116.6" y="575.8" width="118" height="13.8" rx="4" fill="#5a5a5a"/><rect x="1122" y="582.3" width="98" height="0.8" fill="#6c6c6c"/><rect x="1222" y="577.3" width="11.5" height="11" rx="2.6" fill="#2a6ff2"/><path d="M1225.55 581.5999999999999 L1227.75 579.4 L1229.95 581.5999999999999 M1225.55 584.0 L1227.75 586.1999999999999 L1229.95 584.0" stroke="#fff" stroke-width="1" fill="none" stroke-linecap="round" stroke-linejoin="round"/><text x="1116.6" y="602.3" font-size="9.1" fill="#e4e4e4" stroke="#e4e4e4" stroke-width="0.22" text-anchor="start" font-weight="normal" >Viewports (Option+Tab):</text><rect x="1116.6" y="605" width="118" height="14" rx="4" fill="#5a5a5a"/><rect x="1122" y="611.6" width="98" height="0.8" fill="#6c6c6c"/><rect x="1222" y="606.5" width="11.5" height="11" rx="2.6" fill="#2a6ff2"/><path d="M1225.55 610.8 L1227.75 608.6 L1229.95 610.8 M1225.55 613.2 L1227.75 615.4 L1229.95 613.2" stroke="#fff" stroke-width="1" fill="none" stroke-linecap="round" stroke-linejoin="round"/><rect x="1111" y="628.5" width="129" height="12" fill="#212121"/><text x="1113.9" y="637.6" font-size="8.4" fill="#ececec" stroke="#ececec" stroke-width="0.22" text-anchor="start" font-weight="normal" >Selection Filter</text><rect x="1115.3" y="645.20" width="9.2" height="9.2" rx="2" fill="#2a6ff2"/><path d="M1117.5 649.80 L1119.3 652.20 L1122.6 647.00" stroke="#fff" stroke-width="1.3" fill="none" stroke-linecap="round" stroke-linejoin="round"/><text x="1129.5" y="653.0" font-size="8.9" fill="#e4e4e4" stroke="#e4e4e4" stroke-width="0.22" text-anchor="start" font-weight="normal" >All items</text><rect x="1186.7" y="645.20" width="9.2" height="9.2" rx="2" fill="#2a6ff2"/><path d="M1188.9 649.80 L1190.7 652.20 L1194.0 647.00" stroke="#fff" stroke-width="1.3" fill="none" stroke-linecap="round" stroke-linejoin="round"/><text x="1200.8" y="653.0" font-size="8.9" fill="#e4e4e4" stroke="#e4e4e4" stroke-width="0.22" text-anchor="start" font-weight="normal" >Locked items</text><rect x="1115.3" y="656.65" width="9.2" height="9.2" rx="2" fill="#2a6ff2"/><path d="M1117.5 661.25 L1119.3 663.65 L1122.6 658.45" stroke="#fff" stroke-width="1.3" fill="none" stroke-linecap="round" stroke-linejoin="round"/><text x="1129.5" y="664.45" font-size="8.9" fill="#e4e4e4" stroke="#e4e4e4" stroke-width="0.22" text-anchor="start" font-weight="normal" >Footprints</text><rect x="1186.7" y="656.65" width="9.2" height="9.2" rx="2" fill="#2a6ff2"/><path d="M1188.9 661.25 L1190.7 663.65 L1194.0 658.45" stroke="#fff" stroke-width="1.3" fill="none" stroke-linecap="round" stroke-linejoin="round"/><text x="1200.8" y="664.45" font-size="8.9" fill="#e4e4e4" stroke="#e4e4e4" stroke-width="0.22" text-anchor="start" font-weight="normal" >Text</text><rect x="1115.3" y="668.10" width="9.2" height="9.2" rx="2" fill="#2a6ff2"/><path d="M1117.5 672.70 L1119.3 675.10 L1122.6 669.90" stroke="#fff" stroke-width="1.3" fill="none" stroke-linecap="round" stroke-linejoin="round"/><text x="1129.5" y="675.9" font-size="8.9" fill="#e4e4e4" stroke="#e4e4e4" stroke-width="0.22" text-anchor="start" font-weight="normal" >Tracks</text><rect x="1186.7" y="668.10" width="9.2" height="9.2" rx="2" fill="#2a6ff2"/><path d="M1188.9 672.70 L1190.7 675.10 L1194.0 669.90" stroke="#fff" stroke-width="1.3" fill="none" stroke-linecap="round" stroke-linejoin="round"/><text x="1200.8" y="675.9" font-size="8.9" fill="#e4e4e4" stroke="#e4e4e4" stroke-width="0.22" text-anchor="start" font-weight="normal" >Vias</text><rect x="1115.3" y="679.55" width="9.2" height="9.2" rx="2" fill="#2a6ff2"/><path d="M1117.5 684.15 L1119.3 686.55 L1122.6 681.35" stroke="#fff" stroke-width="1.3" fill="none" stroke-linecap="round" stroke-linejoin="round"/><text x="1129.5" y="687.35" font-size="8.9" fill="#e4e4e4" stroke="#e4e4e4" stroke-width="0.22" text-anchor="start" font-weight="normal" >Pads</text><rect x="1186.7" y="679.55" width="9.2" height="9.2" rx="2" fill="#2a6ff2"/><path d="M1188.9 684.15 L1190.7 686.55 L1194.0 681.35" stroke="#fff" stroke-width="1.3" fill="none" stroke-linecap="round" stroke-linejoin="round"/><text x="1200.8" y="687.35" font-size="8.9" fill="#e4e4e4" stroke="#e4e4e4" stroke-width="0.22" text-anchor="start" font-weight="normal" >Graphics</text><rect x="1115.3" y="691.00" width="9.2" height="9.2" rx="2" fill="#2a6ff2"/><path d="M1117.5 695.60 L1119.3 698.00 L1122.6 692.80" stroke="#fff" stroke-width="1.3" fill="none" stroke-linecap="round" stroke-linejoin="round"/><text x="1129.5" y="698.8" font-size="8.9" fill="#e4e4e4" stroke="#e4e4e4" stroke-width="0.22" text-anchor="start" font-weight="normal" >Zones</text><rect x="1186.7" y="691.00" width="9.2" height="9.2" rx="2" fill="#2a6ff2"/><path d="M1188.9 695.60 L1190.7 698.00 L1194.0 692.80" stroke="#fff" stroke-width="1.3" fill="none" stroke-linecap="round" stroke-linejoin="round"/><text x="1200.8" y="698.8" font-size="8.9" fill="#e4e4e4" stroke="#e4e4e4" stroke-width="0.22" text-anchor="start" font-weight="normal" >Rule Areas</text><rect x="1115.3" y="702.45" width="9.2" height="9.2" rx="2" fill="#2a6ff2"/><path d="M1117.5 707.05 L1119.3 709.45 L1122.6 704.25" stroke="#fff" stroke-width="1.3" fill="none" stroke-linecap="round" stroke-linejoin="round"/><text x="1129.5" y="710.25" font-size="8.9" fill="#e4e4e4" stroke="#e4e4e4" stroke-width="0.22" text-anchor="start" font-weight="normal" >Dimensions</text><rect x="1186.7" y="702.45" width="9.2" height="9.2" rx="2" fill="#2a6ff2"/><path d="M1188.9 707.05 L1190.7 709.45 L1194.0 704.25" stroke="#fff" stroke-width="1.3" fill="none" stroke-linecap="round" stroke-linejoin="round"/><text x="1200.8" y="710.25" font-size="8.9" fill="#e4e4e4" stroke="#e4e4e4" stroke-width="0.22" text-anchor="start" font-weight="normal" >Other items</text><rect x="1239.3" y="96" width="1" height="619" fill="#8a8a8a"/><g transform="translate(46,51)"><path d="M0.5 0.5 H12.5 L15.5 3.5 V15.5 H0.5 Z" fill="#e2dfe0"/><rect x="4" y="1.2" width="7" height="4.3" fill="#555555"/><rect x="8" y="1.8" width="1.6" height="2.6" fill="#e2dfe0"/><rect x="3" y="8.6" width="10" height="5.6" fill="#555555"/></g><g transform="translate(76,51)"><rect x="0" y="0" width="15.5" height="16" rx="2" fill="#157a1e"/><path d="M3 0 V5 L6 8 V16 M6 0 V4 M9 0 V2" stroke="#6fbf6a" stroke-width="0.8" fill="none"/><circle cx="2.4" cy="10.5" r="1.4" fill="#f2e060"/><circle cx="14" cy="5.8" r="1.4" fill="#f2e060"/><circle cx="14" cy="15" r="1" fill="#f2e060"/><g transform="translate(11.2,11.6)"><circle r="4.9" fill="#fff" opacity="0.85"/><path d="M0 -4.4 L1.3 -2.6 L3.6 -2.8 L3.1 -0.6 L4.4 1.2 L2.3 2.3 L2 4.5 L0 3.3 L-2 4.5 L-2.3 2.3 L-4.4 1.2 L-3.1 -0.6 L-3.6 -2.8 L-1.3 -2.6 Z" fill="#ef4d62"/><circle r="1.5" fill="#3ea0a0"/></g></g><g transform="translate(104.5,51)"><rect x="0.5" y="0.5" width="1.6" height="14" fill="#9a9a9a"/><path d="M3 0.5 H10.5 L14 4 V14.5 H3 Z" fill="#555555" stroke="#e2dfe0" stroke-width="1"/><path d="M10.5 0.5 V4 H14 Z" fill="#e2dfe0"/><path d="M4 16.2 H14" stroke="#9a9a9a" stroke-width="1"/></g><g transform="translate(127,51)"><rect x="3.6" y="0.4" width="10" height="4.2" rx="0.6" fill="#e2dfe0"/><rect x="5" y="1.6" width="7.2" height="3" fill="#555555"/><rect x="0.3" y="4.4" width="16.6" height="7.8" rx="1.6" fill="#e2dfe0"/><path d="M3.6 7.6 H13.6 V13.8 L11.8 15.8 H3.6 Z" fill="#555555" stroke="#e2dfe0" stroke-width="1"/></g><g transform="translate(150,51)"><rect x="4.5" y="0.4" width="8.5" height="3.8" rx="0.6" fill="#e2dfe0"/><rect x="5.6" y="1.5" width="6.3" height="2.7" fill="#555555"/><rect x="0.3" y="4" width="17" height="4.4" rx="0.8" fill="#e2dfe0"/><path d="M4.5 6.6 H12.8 V12.4 L11.4 13.8 H4.5 Z" fill="#555555" stroke="#e2dfe0" stroke-width="1"/><path d="M2 8 V15.8 M15.4 8 V15.8 M0.8 15.6 H3.4 M14.2 15.6 H16.8" stroke="#e2dfe0" stroke-width="1.1"/></g><g transform="translate(180.3,51)"><path d="M1.8 4.3 A6.4 6.4 0 1 1 2.2 11.7" fill="none" stroke="#e2dfe0" stroke-width="1.4" transform="rotate(0)"/><path d="M0.8 0.3 L1.2 5.5 L6 4.6" fill="none" stroke="#e2dfe0" stroke-width="1.4" stroke-linejoin="round"/></g><g transform="translate(204,51)"><path d="M12.2 4.3 A6.4 6.4 0 1 0 11.8 11.7" fill="none" stroke="#8d8d8d" stroke-width="1.4"/><path d="M13.2 0.3 L12.8 5.5 L8 4.6" fill="none" stroke="#8d8d8d" stroke-width="1.4" stroke-linejoin="round"/></g><g transform="translate(231.8,51)"><circle cx="9.6" cy="6.6" r="5.6" fill="none" stroke="#e2dfe0" stroke-width="1.4"/><path d="M5.6 10.8 L1.2 15.2" stroke="#e2dfe0" stroke-width="1.7" stroke-linecap="round"/><text x="9.6" y="9.6" font-size="8.6" font-weight="bold" fill="#e2dfe0" text-anchor="middle">A</text></g><g transform="translate(261,51)"><path d="M1.8 6.6 A6.2 6.2 0 0 1 13 4.4" fill="none" stroke="#e2dfe0" stroke-width="1.6"/><path d="M14.3 9.4 A6.2 6.2 0 0 1 3 11.6" fill="none" stroke="#e2dfe0" stroke-width="1.6"/><path d="M15.2 1 L14.2 6 L9.6 4.8 Z" fill="#e2dfe0"/><path d="M0.8 15 L1.8 10 L6.4 11.2 Z" fill="#e2dfe0"/></g><g transform="translate(284.3,51)"><circle cx="6.6" cy="6.6" r="5.6" fill="none" stroke="#e2dfe0" stroke-width="1.4"/><path d="M10.6 10.8 L15 15.2" stroke="#e2dfe0" stroke-width="1.7" stroke-linecap="round"/><path d="M3.6 6.6 H9.6 M6.6 3.6 V9.6" stroke="#e2dfe0" stroke-width="1.8"/></g><g transform="translate(307,51)"><circle cx="6.6" cy="6.6" r="5.6" fill="none" stroke="#e2dfe0" stroke-width="1.4"/><path d="M10.6 10.8 L15 15.2" stroke="#e2dfe0" stroke-width="1.7" stroke-linecap="round"/><path d="M3.4 6.6 H9.8" stroke="#e2dfe0" stroke-width="1.8"/></g><g transform="translate(330,51)"><circle cx="6.6" cy="6.6" r="5.6" fill="none" stroke="#e2dfe0" stroke-width="1.4"/><path d="M10.6 10.8 L15 15.2" stroke="#e2dfe0" stroke-width="1.7" stroke-linecap="round"/><path d="M4.3 3.4 H7.8 L9.2 4.8 V10 H4.3 Z" fill="#e2dfe0"/></g><g transform="translate(353,51)"><circle cx="6.6" cy="6.6" r="5.6" fill="none" stroke="#e2dfe0" stroke-width="1.4"/><path d="M10.6 10.8 L15 15.2" stroke="#e2dfe0" stroke-width="1.7" stroke-linecap="round"/><path d="M3.2 9.6 L5.6 6.2 L7.4 8 L8.4 7 L10.2 9.6 Z" fill="#e2dfe0"/><circle cx="9.4" cy="4.2" r="1" fill="#e2dfe0"/></g><g transform="translate(376,51)"><circle cx="6.6" cy="6.6" r="5.6" fill="none" stroke="#e2dfe0" stroke-width="1.4"/><path d="M10.6 10.8 L15 15.2" stroke="#e2dfe0" stroke-width="1.7" stroke-linecap="round"/><path d="M4.6 3 V10.4 L6.4 8.6 L7.8 11 L8.8 10.4 L7.6 8.2 L10 8.2 Z" fill="#c9c6c7"/></g><g transform="translate(404.6,51)"><path d="M1 8 V15.3 H15 Z" fill="#e2dfe0"/><path d="M11.8 9 C12 4.6 9 3.2 6.5 4.2" fill="none" stroke="#33b4ea" stroke-width="1.6"/><path d="M5 4.6 L8.4 1.4 L8.4 7 Z" fill="#33b4ea"/></g><g transform="translate(428.6,51)"><path d="M14.5 8 V15.3 H0.6 Z" fill="#e2dfe0"/><path d="M3.6 9 C3.4 4.6 6.4 3.2 8.9 4.2" fill="none" stroke="#33b4ea" stroke-width="1.6"/><path d="M10.4 4.6 L7 1.4 L7 7 Z" fill="#33b4ea"/></g><g transform="translate(450.8,51)"><path d="M0.6 0.8 L14.4 6.6 H0.6 Z" fill="#e2dfe0"/><path d="M0.6 8 H14.4 L0.6 14.3 Z" fill="#33b4ea"/></g><g transform="translate(474,51)"><path d="M7 0.5 V15 H0.5 Z" fill="#e2dfe0"/><path d="M8.6 0.5 V15 H14.8 Z" fill="#33b4ea"/></g><g transform="translate(495.5,51)"><rect x="1" y="1" width="15" height="15" fill="none" stroke="#8a8a8a" stroke-width="0.9" stroke-dasharray="1.6 1.2"/><rect x="3.4" y="3" width="7.2" height="7" fill="#5a5a5a" stroke="#8a8a8a" stroke-width="0.8"/><rect x="7" y="6.6" width="7.8" height="7.8" fill="#5a5a5a" stroke="#8a8a8a" stroke-width="0.8"/></g><g transform="translate(519.5,51)"><rect x="1" y="1.5" width="8.4" height="8.4" fill="#5a5a5a" stroke="#8a8a8a" stroke-width="0.8"/><rect x="5.2" y="6" width="8.4" height="8.4" fill="#585858" stroke="#8a8a8a" stroke-width="0.8"/><g fill="#8a8a8a"><circle cx="1" cy="1.5" r="0.9"/><circle cx="9.4" cy="1.5" r="0.9"/><circle cx="1" cy="9.9" r="0.9"/><circle cx="13.6" cy="6" r="0.9"/><circle cx="5.2" cy="14.4" r="0.9"/><circle cx="13.6" cy="14.4" r="0.9"/></g></g><g transform="translate(543,51)"><path d="M3.5 8 V4.5 A4 4 0 0 1 11.5 4.5 V8" fill="none" stroke="#8a8a8a" stroke-width="1.6"/><rect x="1" y="7.4" width="13" height="8.6" rx="1.4" fill="#8a8a8a"/><circle cx="7.5" cy="10.8" r="1.1" fill="#222"/><rect x="7" y="11" width="1" height="3" fill="#222"/></g><g transform="translate(564.5,51)"><path d="M9.8 8 V4.5 A3.8 3.8 0 0 1 17.2 4.5 V6" fill="none" stroke="#8a8a8a" stroke-width="1.6"/><rect x="0.5" y="7.4" width="12" height="8.6" rx="1.4" fill="#8a8a8a"/><circle cx="6.5" cy="10.8" r="1.1" fill="#222"/><rect x="6" y="11" width="1" height="3" fill="#222"/></g><g transform="translate(593,51)"><path d="M1.5 2 V6 Q-0.2 8 1.5 10 V14 M16 2 V14" stroke="#9a9a9a" stroke-width="0.9" fill="none"/><rect x="2" y="0.5" width="3" height="4" fill="#33b4ea"/><rect x="7" y="0.5" width="3" height="4" fill="#33b4ea"/><rect x="12" y="0.5" width="3" height="4" fill="#33b4ea"/><rect x="2" y="11.5" width="3" height="4" fill="#33b4ea"/><rect x="7" y="11.5" width="3" height="4" fill="#33b4ea"/><circle cx="12.8" cy="11.6" r="5" fill="#ef4d62"/><path d="M10.4 14 L15 9.4" stroke="#fff" stroke-width="1.6"/></g><g transform="translate(617,51)"><rect x="1" y="1" width="3.2" height="14.5" fill="#d8d8d8"/><rect x="5.2" y="1" width="3.2" height="14.5" fill="#d8d8d8"/><path d="M9.6 0.6 L15.4 15" stroke="#33b4ea" stroke-width="1.6"/><circle cx="11" cy="9.2" r="3.5" fill="#cfcfcf" stroke="#ef4d62" stroke-width="1.3"/><path d="M13.4 12 L15.6 15" stroke="#ef4d62" stroke-width="1.5"/></g><g transform="translate(640.5,51)"><rect x="2" y="0" width="11.5" height="9" rx="1.6" fill="#e4e1e2"/><rect x="2" y="9.6" width="11.5" height="3" rx="0.8" fill="#e4e1e2"/><rect x="0" y="13.2" width="16" height="1.6" fill="#33b4ea"/><path d="M4.5 12.6 V16 M11 12.6 V16" stroke="#bbb" stroke-width="0.6"/></g><g transform="translate(669,51)"><rect x="0" y="0" width="17" height="17" rx="3" fill="#e6dcc8"/><path d="M9 17 L17 17 L17 0 L13.5 0 Z" fill="#2e8c2e"/><path d="M9.4 16.6 L16.2 1" stroke="#fff" stroke-width="0.7"/><circle cx="14.8" cy="5.4" r="1.3" fill="#f5a000"/><path d="M1 12 Q3 9 6 11.6 L7.5 10 L8.4 15.5 L3 15 L4.8 13.4 Q3 12.4 1 14 Z" fill="#ef4d62"/><path d="M3.5 4 L5 7 M6 2 L6.5 5" stroke="#222" stroke-width="0.9"/></g><g transform="translate(692.5,51)"><rect x="0.5" y="0.5" width="3.4" height="3.4" rx="0.8" fill="none" stroke="#bbb" stroke-width="0.9"/><rect x="0.5" y="5.8" width="3.4" height="3.4" rx="0.8" fill="none" stroke="#bbb" stroke-width="0.9"/><rect x="0.5" y="11.1" width="3.4" height="3.4" rx="0.8" fill="none" stroke="#bbb" stroke-width="0.9"/><path d="M5.4 2.2 H12.5 M5.4 7.5 H8" stroke="#9a9a9a" stroke-width="1.2"/><circle cx="12.2" cy="11.5" r="4.8" fill="#ef4d62"/><path d="M9.8 11.6 L11.6 13.4 L14.6 10" stroke="#fff" stroke-width="1.4" fill="none"/></g><g transform="translate(720.6,50.5)"><rect x="0" y="0" width="17.4" height="17" rx="3.4" fill="#e6dcc8"/><path d="M7.5 0 V5.5 L5.6 9 L8 10.6 L5.5 13.2 L7.5 15 V17 M0 11.6 H5.5 M8 6.5 H17.4" stroke="#1a1a1a" stroke-width="1" fill="none"/><rect x="6.2" y="0" width="2.6" height="2.6" fill="#d42020"/><rect x="12.5" y="5.5" width="4.9" height="2.4" fill="#d42020"/><rect x="6.4" y="13.4" width="2.2" height="2.2" fill="#d42020"/></g><g transform="translate(750.8,51.4)"><rect x="0" y="0" width="15.6" height="15.5" rx="1.6" fill="#9b9b9b"/><rect x="0" y="3.6" width="15.6" height="1" fill="#e6e6e6"/><path d="M1.5 1.5 H2.6 M3.6 1.5 H4.7 M5.7 1.5 H6.8" stroke="#eee" stroke-width="1"/><path d="M1.8 7 L4.2 8.6 L1.8 10.2" stroke="#fff" stroke-width="1.1" fill="none"/><rect x="6" y="11.4" width="3" height="0.9" fill="#eee"/></g><rect x="40" y="96" width="25" height="619" fill="#323232"/><rect x="41.5" y="98.5" width="21.5" height="21.5" rx="1.5" fill="#101c30" stroke="#35587c" stroke-width="1"/><circle cx="45.6" cy="103.0" r="1.05" fill="#f0f0f0"/><circle cx="50.2" cy="103.0" r="1.05" fill="#f0f0f0"/><circle cx="54.8" cy="103.0" r="1.05" fill="#f0f0f0"/><circle cx="59.4" cy="103.0" r="1.05" fill="#f0f0f0"/><circle cx="45.6" cy="107.4" r="1.05" fill="#f0f0f0"/><circle cx="50.2" cy="107.4" r="1.05" fill="#f0f0f0"/><circle cx="54.8" cy="107.4" r="1.05" fill="#f0f0f0"/><circle cx="59.4" cy="107.4" r="1.05" fill="#f0f0f0"/><circle cx="45.6" cy="111.8" r="1.05" fill="#f0f0f0"/><circle cx="50.2" cy="111.8" r="1.05" fill="#f0f0f0"/><circle cx="54.8" cy="111.8" r="1.05" fill="#f0f0f0"/><circle cx="59.4" cy="111.8" r="1.05" fill="#f0f0f0"/><circle cx="45.6" cy="116.2" r="1.05" fill="#f0f0f0"/><circle cx="50.2" cy="116.2" r="1.05" fill="#f0f0f0"/><circle cx="54.8" cy="116.2" r="1.05" fill="#f0f0f0"/><circle cx="59.4" cy="116.2" r="1.05" fill="#f0f0f0"/><circle cx="44.9" cy="125.5" r="0.95" fill="#e6e6e6"/><circle cx="59.4" cy="125.5" r="0.95" fill="#e6e6e6"/><circle cx="44.9" cy="130.3" r="0.95" fill="#e6e6e6"/><circle cx="59.4" cy="130.3" r="0.95" fill="#e6e6e6"/><circle cx="44.9" cy="135.1" r="0.95" fill="#e6e6e6"/><circle cx="59.4" cy="135.1" r="0.95" fill="#e6e6e6"/><circle cx="44.9" cy="139.9" r="0.95" fill="#e6e6e6"/><circle cx="59.4" cy="139.9" r="0.95" fill="#e6e6e6"/><path d="M48.3 132 V128.6 A3.75 3.75 0 0 1 55.8 128.6 V132" stroke="#f06482" stroke-width="1.9" fill="none"/><rect x="45.8" y="131.2" width="12.6" height="10.3" rx="1.2" fill="#f06482"/><circle cx="52.1" cy="135.4" r="1.1" fill="#1a1a1a"/><path d="M51.6 135.6 H52.6 L52.9 138.5 H51.3 Z" fill="#1a1a1a"/><path d="M44.4 163 V149.2 M44.4 163 H59.4" stroke="#e2dfe0" stroke-width="0.85" fill="none"/><path d="M43 150.6 L44.4 148.2 L45.8 150.6 Z M58 161.6 L60.4 163 L58 164.4 Z" fill="#e2dfe0"/><path d="M44.8 162.6 L58.4 149.4" stroke="#e2dfe0" stroke-width="0.85"/><circle cx="58.8" cy="149" r="1.7" fill="#f06482"/><text x="47.4" y="156" font-size="7.2" fill="#e2dfe0">r</text><text x="53.6" y="160.6" font-size="7" font-style="italic" fill="#e2dfe0">θ</text><text x="52.3" y="179.2" font-size="8.2" font-weight="bold" fill="#e2dfe0" text-anchor="middle">in</text><path d="M45 182.2 H60 M45 182.2 L47.2 180.6 M45 182.2 L47.2 183.8 M60 182.2 L57.8 180.6 M60 182.2 L57.8 183.8" stroke="#e2dfe0" stroke-width="1"/><text x="52.3" y="202" font-size="8.2" font-weight="bold" fill="#e2dfe0" text-anchor="middle">mil</text><path d="M45 205.6 H60 M45 205.6 L47.2 204 M45 205.6 L47.2 207.2 M60 205.6 L57.8 204 M60 205.6 L57.8 207.2" stroke="#e2dfe0" stroke-width="1"/><rect x="41.5" y="213" width="21.5" height="21.5" rx="1.5" fill="#101c30" stroke="#35587c" stroke-width="1"/><text x="52.3" y="224.6" font-size="8" font-weight="bold" fill="#e2dfe0" text-anchor="middle">mm</text><path d="M45 228.3 H60 M45 228.3 L47.2 226.7 M45 228.3 L47.2 229.9 M60 228.3 L57.8 226.7 M60 228.3 L57.8 229.9" stroke="#e2dfe0" stroke-width="1"/><path d="M52.2 238.5 V256 M44 247.2 H61" stroke="#9a9a9a" stroke-width="0.8"/><circle cx="52.2" cy="247.2" r="2.6" fill="#33b4ea" opacity="0.5"/><path d="M49 247.2 H55.4 M52.2 244 V250.4" stroke="#33b4ea" stroke-width="1.6"/><path d="M53 247.6 V255.6 L54.8 253.9 L56.3 256.9 L57.5 256.3 L56.1 253.4 L58.5 253.4 Z" fill="#e6e6e6"/><rect x="43" y="261" width="19" height="0.8" fill="#4a4a4a"/><path d="M46.1 268 V283.6 H60.5" stroke="#e2dfe0" stroke-width="1.1" fill="none"/><path d="M46.1 283.4 L58.5 271" stroke="#e2dfe0" stroke-width="1.1"/><path d="M46.1 278.5 H51.2 V283.5" stroke="#e2dfe0" stroke-width="0.8" fill="none"/><rect x="43" y="290" width="19" height="0.8" fill="#4a4a4a"/><rect x="41.5" y="294.5" width="21.5" height="21.5" rx="1.5" fill="#101c30" stroke="#35587c" stroke-width="1"/><path d="M46.8 301.4 L57.3 310 M56.5 302.3 L47.4 309.6 M46.8 301.4 L56.5 302.3" stroke="#e2dfe0" stroke-width="0.9"/><g fill="#f2f2f2"><circle cx="46.8" cy="301.4" r="2.2"/><circle cx="56.5" cy="302.3" r="2.2"/><circle cx="47.4" cy="309.6" r="2.2"/><circle cx="57.3" cy="310" r="2.2"/></g><path d="M44 337.5 L61 320.5" stroke="#e2dfe0" stroke-width="1"/><path d="M45.6 330.4 L53 322.6" stroke="#e2dfe0" stroke-width="0.9"/><path d="M58.9 327.4 Q58.5 334 50.7 335.4" stroke="#e2dfe0" stroke-width="0.9" fill="none"/><g fill="#f2f2f2"><circle cx="53" cy="322.6" r="1.9"/><circle cx="45.6" cy="330.4" r="1.9"/><circle cx="58.9" cy="327.4" r="1.9"/><circle cx="50.7" cy="335.4" r="1.9"/></g><rect x="43" y="342.5" width="19" height="0.8" fill="#4a4a4a"/><rect x="41.5" y="347" width="21.5" height="21.5" rx="1.5" fill="#101c30" stroke="#35587c" stroke-width="1"/><path d="M44.2 350.2 L50 356.6" stroke="#e0e0e0" stroke-width="1.3" fill="none"/><path d="M47.4 349.5 L52.2 352.6 H55.6 L60.3 358.3 M53.5 357.3 L60.3 363.7" stroke="#f06482" stroke-width="1.3" fill="none"/><path d="M43.7 359 L48.1 362.7 H53.5 L57.6 365.7" stroke="#e0e0e0" stroke-width="1.3" fill="none"/><circle cx="50.5" cy="357.6" r="2.5" fill="#f29a00"/><circle cx="50.5" cy="357.6" r="1.1" fill="#fff4d0"/><path d="M43.7 374.9 H50.2 L54.2 378.6 V388.7 M53.2 372.5 L57.9 376.9 V388.7" stroke="#dcdcdc" stroke-width="1.4" fill="none"/><path d="M48.1 380.3 H60.6" stroke="#33b4ea" stroke-width="2"/><path d="M48.1 381 V388.7" stroke="#f06482" stroke-width="2"/><circle cx="48.1" cy="380" r="2.5" fill="#f29a00"/><circle cx="48.1" cy="380" r="1.1" fill="#fff4d0"/><rect x="43" y="395" width="19" height="0.8" fill="#4a4a4a"/><rect x="41.5" y="398.5" width="21.5" height="21.5" rx="1.5" fill="#101c30" stroke="#35587c" stroke-width="1"/><path d="M44.5 418 V409.5 H49 V402 H59.5 V418 Z" fill="#33b4ea"/><path d="M46 416.5 V411 H50.5 V403.5 H58 V416.5 Z" fill="none" stroke="#1b5f86" stroke-width="0.6" stroke-dasharray="1 1"/><circle cx="56" cy="409.5" r="2" fill="#fff"/><path d="M51.5 409.5 H55" stroke="#fff" stroke-width="1"/><path d="M45 441 V432.5 H49 V425 H59.5 V441 Z" fill="none" stroke="#33b4ea" stroke-width="1" stroke-dasharray="1.6 1.1"/><circle cx="56" cy="432.5" r="1.6" fill="#fff"/><path d="M52 432.5 H55" stroke="#fff" stroke-width="1"/><rect x="43" y="447" width="19" height="0.8" fill="#4a4a4a"/><path d="M44.8 453.5 H59.6 V469.5 H44.8 V464 Q46.6 461.5 44.8 459 Z" fill="none" stroke="#d8d8d8" stroke-width="0.9"/><g fill="#33b4ea"><rect x="45.6" y="453.5" width="3" height="4"/><rect x="50.8" y="453.5" width="3" height="4"/><rect x="56" y="453.5" width="3" height="4"/><rect x="45.6" y="465.5" width="3" height="4"/><rect x="50.8" y="465.5" width="3" height="4"/><rect x="56" y="465.5" width="3" height="4"/></g><path d="M44.2 470 L60.5 453" stroke="#f0f0f0" stroke-width="1.1"/><circle cx="52" cy="485" r="5" fill="none" stroke="#f29a00" stroke-width="3.2"/><path d="M52 478.4 A6.6 6.6 0 0 1 58.2 487.2" stroke="#323232" stroke-width="3.4" fill="none"/><path d="M52 478.6 A6.4 6.4 0 0 1 58.1 487" stroke="#8a8a8a" stroke-width="0.9" fill="none"/><path d="M52 481.6 A3.4 3.4 0 0 1 55.3 485.6" stroke="#8a8a8a" stroke-width="0.9" fill="none"/><circle cx="52" cy="485" r="2.2" fill="none" stroke="#9a9a9a" stroke-width="0.8"/><path d="M44 493.5 L60.5 476.5" stroke="#f0f0f0" stroke-width="1.1"/><path d="M52.2 498 V516" stroke="#e05a7a" stroke-width="2.6"/><path d="M52.2 498 V516" stroke="#f6a0b4" stroke-width="0.8"/><path d="M44 506.5 H60.5" stroke="#33b4ea" stroke-width="2.6"/><path d="M44 506.5 H60.5" stroke="#9ad8f6" stroke-width="0.8"/><path d="M44 516.5 L61 499" stroke="#f0f0f0" stroke-width="1.1"/><rect x="43" y="522" width="19" height="0.8" fill="#4a4a4a"/><rect x="41.5" y="526.5" width="21.5" height="21.5" rx="1.5" fill="#101c30" stroke="#35587c" stroke-width="1"/><path d="M45 540.5 L52.5 544.8 L60 540.5 L52.5 536.2 Z" fill="#f29a00"/><path d="M45 537.8 L52.5 542.1 L60 537.8 L52.5 533.5 Z" fill="#f4f0e6"/><path d="M45.5 534.6 L52.5 539.6 L59.5 534.6 L52.5 529.2 Z" fill="#33b4ea"/><path d="M47.5 554.5 L58.5 565.5" stroke="#33b4ea" stroke-width="2.4" stroke-linecap="round"/><path d="M44.2 553.4 A3.6 3.6 0 0 0 49.6 557.6 L47.6 555.6 L46.2 551.6 Z" fill="#33b4ea"/><circle cx="47" cy="553.8" r="3.4" fill="none" stroke="#33b4ea" stroke-width="1.6"/><path d="M45 566 L53 558" stroke="#e8e8e8" stroke-width="1.2"/><path d="M53 558 L59.5 551.5" stroke="#e8e8e8" stroke-width="2.6" stroke-linecap="round"/><rect x="1082" y="96" width="29" height="619" fill="#323232"/><rect x="1108.5" y="96" width="2.5" height="619" fill="#2c2c2c"/><rect x="1083.2" y="99" width="21.3" height="21" rx="1.5" fill="#101c30" stroke="#35587c" stroke-width="1"/><path d="M1091 104.5 V115.5 L1093.5 113 L1095.5 117 L1097 116.2 L1095.2 112.3 L1098.5 112.3 Z" fill="#d6d6d6"/><path d="M1087 125 L1102 140 M1102 125 L1087 140" stroke="#e2dfe0" stroke-width="1"/><circle cx="1094.5" cy="132.5" r="2.3" fill="#fff"/><rect x="1087" y="147.5" width="15" height="0.8" fill="#4a4a4a"/><path d="M1087 154 V160 Q1085.4 162 1087 164 V170 M1103 154 V170" stroke="#bbb" stroke-width="0.9" fill="none"/><g fill="#33b4ea"><rect x="1087.2" y="153" width="4" height="5"/><rect x="1092.5" y="153" width="4" height="5"/><rect x="1097.8" y="153" width="4" height="5"/><rect x="1087.2" y="165.5" width="4" height="5"/><rect x="1092.5" y="165.5" width="4" height="5"/><rect x="1097.8" y="165.5" width="4" height="5"/></g><path d="M1087 190 L1091 183 H1097 L1101 176" stroke="#33b4ea" stroke-width="1.8" fill="none"/><path d="M1101 192 L1104 189 V192 Z" fill="#ddd"/><path d="M1086 209 Q1088 213 1090 209 V204 Q1092 200 1094 204 V209 Q1096 213 1098 209 V204 Q1100 200 1102 205" stroke="#33b4ea" stroke-width="1.6" fill="none"/><path d="M1101 216 L1104 213 V216 Z" fill="#ddd"/><circle cx="1094.5" cy="230.5" r="5" fill="#f0a000"/><circle cx="1094.5" cy="230.5" r="2.2" fill="#f7e0b0"/><path d="M1087.5 259 V250 H1092 V244.5 H1101 V259 Z" fill="#33b4ea"/><circle cx="1098.5" cy="250.5" r="1.6" fill="#fff"/><path d="M1094.5 250.5 H1097" stroke="#fff" stroke-width="1"/><path d="M1088 284 V276 H1092 V269.5 H1102 V284 Z" fill="#333" stroke="#e0e0e0" stroke-width="1"/><path d="M1089 283 L1101 271 M1092 283 L1101.5 273.5 M1095 283 L1101.5 276.5 M1098 283 L1101.5 279.5 M1089 280 L1092 277 M1092 275 L1097.5 269.5" stroke="#e0e0e0" stroke-width="1"/><rect x="1087" y="290" width="15" height="0.8" fill="#4a4a4a"/><path d="M1087 313 L1102 298" stroke="#e2dfe0" stroke-width="1.2"/><path d="M1087 336 Q1089 322 1102 321" stroke="#e2dfe0" stroke-width="1.2" fill="none"/><rect x="1088" y="345.5" width="13" height="12" fill="#8a8a8a" stroke="#d4d4d4" stroke-width="1"/><circle cx="1094.5" cy="374.5" r="6.6" fill="#8a8a8a" stroke="#d4d4d4" stroke-width="1"/><path d="M1087.8 390.8 L1100.6 392.6 L1099.7 401.2 L1088.6 403.6 L1092.6 398.2 Z" fill="#999" stroke="#e6e6e6" stroke-width="1.1" stroke-linejoin="round"/><rect x="1087.5" y="412" width="14" height="14" rx="1.5" fill="#d8d8d8"/><path d="M1089 424 L1093 418 L1096 421 L1098 419 L1100.5 424 Z" fill="#555"/><circle cx="1098" cy="415.6" r="1.3" fill="#555"/><path d="M1088 436.5 H1101 M1094.5 436.5 V450" stroke="#e2dfe0" stroke-width="2.6"/><rect x="1087.5" y="459" width="14" height="12" fill="#d8d8d8"/><path d="M1090 462.5 H1099 M1090 465 H1099 M1090 467.5 H1096" stroke="#555" stroke-width="1"/><path d="M1089 495 L1099 484" stroke="#e2dfe0" stroke-width="0.9"/><circle cx="1089" cy="494.5" r="1.6" fill="#33b4ea"/><circle cx="1100" cy="484" r="1.6" fill="#33b4ea"/><path d="M1101 497 L1104 494 V497 Z" fill="#ddd"/><path d="M1088 504 V516 L1090.8 513.6 L1092.6 517.6 L1094 517 L1092.3 513 L1095.5 513 Z" fill="#cfcfcf"/><circle cx="1098" cy="514" r="4.4" fill="#ef4d62"/><path d="M1096.2 512.2 L1099.8 515.8 M1099.8 512.2 L1096.2 515.8" stroke="#fff" stroke-width="1.1"/><rect x="1087" y="527.5" width="15" height="0.8" fill="#4a4a4a"/><circle cx="1087.10" cy="533.50" r="1.15" fill="#ececec"/><circle cx="1091.85" cy="533.50" r="1.15" fill="#ececec"/><circle cx="1096.60" cy="533.50" r="1.15" fill="#ececec"/><circle cx="1101.35" cy="533.50" r="1.15" fill="#ececec"/><circle cx="1087.10" cy="538.23" r="1.15" fill="#ececec"/><circle cx="1091.85" cy="538.23" r="1.15" fill="#ececec"/><circle cx="1096.60" cy="538.23" r="1.15" fill="#ececec"/><circle cx="1101.35" cy="538.23" r="1.15" fill="#ececec"/><circle cx="1087.10" cy="542.96" r="1.15" fill="#ececec"/><circle cx="1091.85" cy="542.96" r="1.15" fill="#ececec"/><circle cx="1096.60" cy="542.96" r="1.15" fill="#ececec"/><circle cx="1101.35" cy="542.96" r="1.15" fill="#ececec"/><circle cx="1087.10" cy="547.69" r="1.15" fill="#ececec"/><circle cx="1091.85" cy="547.69" r="1.15" fill="#ececec"/><circle cx="1096.60" cy="547.69" r="1.15" fill="#ececec"/><circle cx="1101.35" cy="547.69" r="1.15" fill="#ececec"/><path d="M1088.3 543 H1095.3 M1091.8 539.5 V546.5" stroke="#33b4ea" stroke-width="1.7"/><circle cx="1091.8" cy="543" r="1" fill="#7fd0ff"/><path d="M1100 546.5 L1104.5 551 M1100.5 551 H1104.5 V547" stroke="#eee" stroke-width="1.3" fill="none"/><path d="M1088 568 L1101.5 556.5 L1104 559 L1090.5 570.5 Z" fill="none" stroke="#e0e0e0" stroke-width="1.1"/><path d="M1091 566 L1092.5 567.5 M1094 563.5 L1095.5 565 M1097 561 L1098.5 562.5 M1100 558.5 L1101.5 560" stroke="#e0e0e0" stroke-width="0.8"/>
</g>
</svg>
</body></html>
